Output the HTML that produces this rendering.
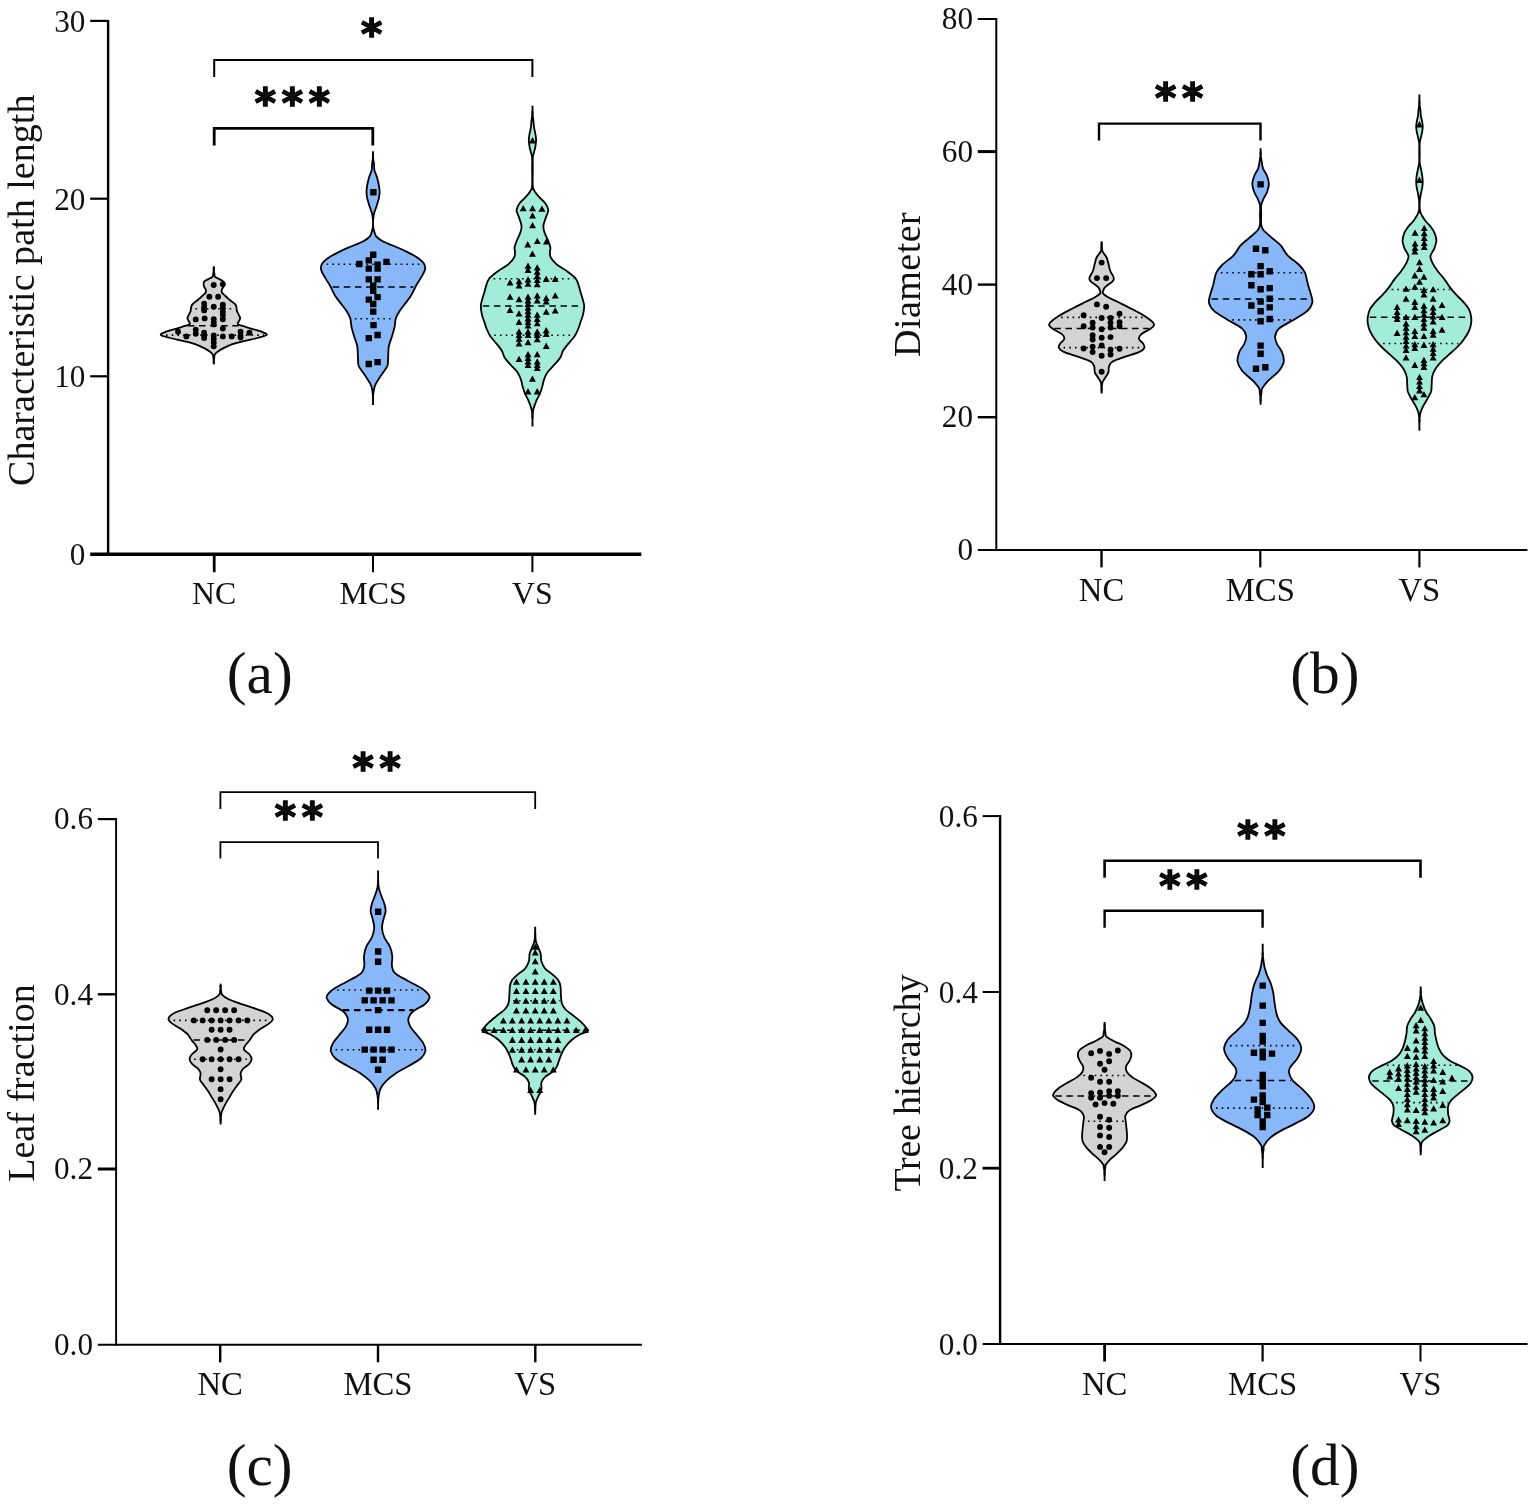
<!DOCTYPE html>
<html lang="en">
<head>
<meta charset="utf-8">
<title>Violin plots</title>
<style>
html,body{margin:0;padding:0;background:#fff;}
body{width:1535px;height:1504px;overflow:hidden;}
svg{display:block;}
text{font-family:"Liberation Serif","DejaVu Serif",serif;fill:#111;}
.tk{font-size:31.2px;}
.xl{font-size:31.8px;}
.yl{font-size:38px;}
.cap{font-size:59.4px;}
.st{font-family:"DejaVu Sans","Liberation Sans",sans-serif;font-weight:bold;font-size:40.5px;stroke:#000;stroke-width:1.5px;stroke-linejoin:miter;}
</style>
</head>
<body>
<svg width="1535" height="1504" viewBox="0 0 1535 1504" role="img" aria-label="Violin plots of network measures for NC, MCS and VS groups">
<rect width="1535" height="1504" fill="#fff"/>
<path d="M108.1 19.9V555.2" stroke="#000" stroke-width="2.4" fill="none"/>
<path d="M90.2 554.2H641.4" stroke="#000" stroke-width="3.4" fill="none"/>
<path d="M90.2 20.9H108.1" stroke="#000" stroke-width="2.2" fill="none"/>
<text x="85.4" y="31.7" text-anchor="end" class="tk">30</text>
<path d="M90.2 198.7H108.1" stroke="#000" stroke-width="2.2" fill="none"/>
<text x="85.4" y="209.5" text-anchor="end" class="tk">20</text>
<path d="M90.2 376.3H108.1" stroke="#000" stroke-width="2.2" fill="none"/>
<text x="85.4" y="387.1" text-anchor="end" class="tk">10</text>
<text x="85.4" y="564.8" text-anchor="end" class="tk">0</text>
<path d="M214.2 554.2V572.2" stroke="#000" stroke-width="2.8" fill="none"/>
<text x="214.2" y="604.2" text-anchor="middle" class="xl" style="font-size:31.8px">NC</text>
<path d="M373 554.2V572.2" stroke="#000" stroke-width="2" fill="none"/>
<text x="373" y="604.2" text-anchor="middle" class="xl" style="font-size:31.8px">MCS</text>
<path d="M532.4 554.2V572.2" stroke="#000" stroke-width="2" fill="none"/>
<text x="532.4" y="604.2" text-anchor="middle" class="xl" style="font-size:31.8px">VS</text>
<text transform="translate(33.6 290.3) rotate(-90)" text-anchor="middle" textLength="391.4" lengthAdjust="spacing" class="yl">Characteristic path length</text>
<text x="259.8" y="693.3" text-anchor="middle" class="cap">(a)</text>
<path d="M996.3 18V550.9" stroke="#000" stroke-width="2" fill="none"/>
<path d="M977.8 549.9H1527.4" stroke="#000" stroke-width="2" fill="none"/>
<path d="M977.8 19H996.3" stroke="#000" stroke-width="2" fill="none"/>
<text x="973" y="28.9" text-anchor="end" class="tk">80</text>
<path d="M977.8 151.6H996.3" stroke="#000" stroke-width="3" fill="none"/>
<text x="973" y="161.5" text-anchor="end" class="tk">60</text>
<path d="M977.8 284.6H996.3" stroke="#000" stroke-width="2.4" fill="none"/>
<text x="973" y="294.5" text-anchor="end" class="tk">40</text>
<path d="M977.8 417.2H996.3" stroke="#000" stroke-width="2.4" fill="none"/>
<text x="973" y="427.1" text-anchor="end" class="tk">20</text>
<text x="973" y="559.8" text-anchor="end" class="tk">0</text>
<path d="M1101.5 549.9V567.4" stroke="#000" stroke-width="2.4" fill="none"/>
<text x="1101.5" y="601.4" text-anchor="middle" class="xl" style="font-size:32.7px">NC</text>
<path d="M1260.3 549.9V567.4" stroke="#000" stroke-width="2.2" fill="none"/>
<text x="1260.3" y="601.4" text-anchor="middle" class="xl" style="font-size:32.7px">MCS</text>
<path d="M1419.4 549.9V567.4" stroke="#000" stroke-width="2.2" fill="none"/>
<text x="1419.4" y="601.4" text-anchor="middle" class="xl" style="font-size:32.7px">VS</text>
<text transform="translate(920 284.6) rotate(-90)" text-anchor="middle" textLength="144.6" lengthAdjust="spacing" class="yl">Diameter</text>
<text x="1324.9" y="692.6" text-anchor="middle" class="cap">(b)</text>
<path d="M116.1 818.1V1345.8" stroke="#000" stroke-width="1.9" fill="none"/>
<path d="M97.8 1344.8H641.9" stroke="#000" stroke-width="2" fill="none"/>
<path d="M97.8 819.1H116.1" stroke="#000" stroke-width="2.2" fill="none"/>
<text x="93" y="829.3" text-anchor="end" class="tk">0.6</text>
<path d="M97.8 994.3H116.1" stroke="#000" stroke-width="2.4" fill="none"/>
<text x="93" y="1004.5" text-anchor="end" class="tk">0.4</text>
<path d="M97.8 1169H116.1" stroke="#000" stroke-width="3" fill="none"/>
<text x="93" y="1179.2" text-anchor="end" class="tk">0.2</text>
<text x="93" y="1355" text-anchor="end" class="tk">0.0</text>
<path d="M220.2 1344.8V1362.3" stroke="#000" stroke-width="2.4" fill="none"/>
<text x="220.2" y="1395" text-anchor="middle" class="xl" style="font-size:32.7px">NC</text>
<path d="M378 1344.8V1362.3" stroke="#000" stroke-width="2.4" fill="none"/>
<text x="378" y="1395" text-anchor="middle" class="xl" style="font-size:32.7px">MCS</text>
<path d="M535.3 1344.8V1362.3" stroke="#000" stroke-width="2.4" fill="none"/>
<text x="535.3" y="1395" text-anchor="middle" class="xl" style="font-size:32.7px">VS</text>
<text transform="translate(33.6 1083) rotate(-90)" text-anchor="middle" textLength="197.6" lengthAdjust="spacing" class="yl">Leaf fraction</text>
<text x="259.7" y="1485" text-anchor="middle" class="cap">(c)</text>
<path d="M1000.1 815.1V1345" stroke="#000" stroke-width="2.4" fill="none"/>
<path d="M982.6 1344H1527.6" stroke="#000" stroke-width="2" fill="none"/>
<path d="M982.6 816.1H1000.1" stroke="#000" stroke-width="2" fill="none"/>
<text x="977.8" y="826.8" text-anchor="end" class="tk">0.6</text>
<path d="M982.6 992H1000.1" stroke="#000" stroke-width="2" fill="none"/>
<text x="977.8" y="1002.7" text-anchor="end" class="tk">0.4</text>
<path d="M982.6 1168.2H1000.1" stroke="#000" stroke-width="2.8" fill="none"/>
<text x="977.8" y="1178.9" text-anchor="end" class="tk">0.2</text>
<text x="977.8" y="1354.7" text-anchor="end" class="tk">0.0</text>
<path d="M1104.6 1344V1361.5" stroke="#000" stroke-width="2.8" fill="none"/>
<text x="1104.6" y="1394.9" text-anchor="middle" class="xl" style="font-size:32.7px">NC</text>
<path d="M1262.6 1344V1361.5" stroke="#000" stroke-width="2.2" fill="none"/>
<text x="1262.6" y="1394.9" text-anchor="middle" class="xl" style="font-size:32.7px">MCS</text>
<path d="M1420.5 1344V1361.5" stroke="#000" stroke-width="2" fill="none"/>
<text x="1420.5" y="1394.9" text-anchor="middle" class="xl" style="font-size:32.7px">VS</text>
<text transform="translate(920.2 1082.7) rotate(-90)" text-anchor="middle" textLength="217.6" lengthAdjust="spacing" class="yl">Tree hierarchy</text>
<text x="1324.9" y="1485.2" text-anchor="middle" class="cap">(d)</text>
<path d="M213.8 267C213.7 267.7 213.7 270 213.5 271.5C213.3 273 213.1 275 212.8 276C212.6 276.9 212.7 276.8 211.9 277.3C211.2 277.8 209.6 278.4 208.3 279.1C207 279.8 204.9 280.6 204.1 281.7C203.4 282.8 203.6 284.6 203.8 285.9C204 287.1 205.1 287.9 205.5 289C205.8 290 206.3 291.1 205.9 292.1C205.5 293.2 204.1 294.2 203.1 295.2C202 296.3 200.8 297.3 199.6 298.4C198.4 299.4 197 300.5 195.8 301.5C194.5 302.5 192.9 303.6 192.1 304.6C191.3 305.7 191.3 306.7 191.1 307.8C190.8 308.8 191 309.8 190.7 310.9C190.3 312 189.5 313.3 189 314.5C188.5 315.7 187.5 317 187.4 318.2C187.4 319.3 188.4 320.3 188.8 321.3C189.2 322.3 190.3 323.2 189.8 323.9C189.3 324.6 188.1 324.9 185.9 325.7C183.6 326.5 179.8 327.6 176.5 328.6C173.2 329.6 168.7 330.7 166.1 331.7C163.5 332.8 160.2 333.8 160.8 334.9C161.5 335.9 166.4 336.9 170.2 338C174 339 179.6 340.1 183.8 341.1C187.9 342.1 191.8 343 195.2 344.2C198.7 345.5 202.1 347.1 204.6 348.4C207.1 349.7 209 351 210.4 352.1C211.7 353.1 212.3 353.5 212.8 354.7C213.4 355.8 213.3 357.7 213.5 359.2C213.7 360.7 213.7 362.9 213.8 363.7L213.8 363.7C213.8 362.9 213.9 360.7 214.1 359.2C214.3 357.7 214.2 355.8 214.7 354.7C215.3 353.5 215.9 353.1 217.2 352.1C218.6 351 220.5 349.7 223 348.4C225.5 347.1 228.9 345.5 232.4 344.2C235.8 343 239.6 342.1 243.8 341.1C248 340.1 253.5 339 257.4 338C261.2 336.9 266.1 335.9 266.7 334.9C267.4 333.8 264.1 332.8 261.5 331.7C258.9 330.7 254.4 329.6 251.1 328.6C247.8 327.6 244 326.5 241.7 325.7C239.5 324.9 238.3 324.6 237.8 323.9C237.3 323.2 238.4 322.3 238.8 321.3C239.2 320.3 240.2 319.3 240.2 318.2C240.1 317 239.1 315.7 238.6 314.5C238.1 313.3 237.3 312 236.9 310.9C236.6 309.8 236.8 308.8 236.5 307.8C236.3 306.7 236.3 305.7 235.5 304.6C234.7 303.6 233.1 302.5 231.8 301.5C230.6 300.5 229.2 299.4 228 298.4C226.8 297.3 225.6 296.3 224.5 295.2C223.5 294.2 222.1 293.2 221.7 292.1C221.3 291.1 221.8 290 222.1 289C222.5 287.9 223.6 287.1 223.8 285.9C224 284.6 224.2 282.8 223.5 281.7C222.7 280.6 220.6 279.8 219.3 279.1C218 278.4 216.4 277.8 215.7 277.3C214.9 276.8 215 276.9 214.7 276C214.5 275 214.3 273 214.1 271.5C213.9 270 213.8 267.7 213.8 267Z" fill="#d3d3d3" stroke="#000" stroke-width="1.8" stroke-linejoin="round"/>
<path d="M213.8 267.3V270M213.8 360.7V364" stroke="#000" stroke-width="1.9" fill="none"/>
<path d="M195.4 308.8H234.7" stroke="#000" stroke-width="1.6" stroke-dasharray="1.6 4.1" fill="none"/>
<path d="M187.9 325.7H239.7" stroke="#000" stroke-width="1.5" stroke-dasharray="6.5 4.6" fill="none"/>
<path d="M166 335.1H264.1" stroke="#000" stroke-width="1.6" stroke-dasharray="1.6 4.1" fill="none"/>
<path d="M210.8 285a2.95 2.95 0 1 0 5.9 0a2.95 2.95 0 1 0 -5.9 0M219.9 284.3a2.95 2.95 0 1 0 5.9 0a2.95 2.95 0 1 0 -5.9 0M206.4 296.8a2.95 2.95 0 1 0 5.9 0a2.95 2.95 0 1 0 -5.9 0M215.2 296.8a2.95 2.95 0 1 0 5.9 0a2.95 2.95 0 1 0 -5.9 0M201.2 303.6a2.95 2.95 0 1 0 5.9 0a2.95 2.95 0 1 0 -5.9 0M201.2 306.7a2.95 2.95 0 1 0 5.9 0a2.95 2.95 0 1 0 -5.9 0M201.2 310.4a2.95 2.95 0 1 0 5.9 0a2.95 2.95 0 1 0 -5.9 0M210.8 306.7a2.95 2.95 0 1 0 5.9 0a2.95 2.95 0 1 0 -5.9 0M219.9 304.6a2.95 2.95 0 1 0 5.9 0a2.95 2.95 0 1 0 -5.9 0M219.9 307.8a2.95 2.95 0 1 0 5.9 0a2.95 2.95 0 1 0 -5.9 0M219.9 311.9a2.95 2.95 0 1 0 5.9 0a2.95 2.95 0 1 0 -5.9 0M219.9 315a2.95 2.95 0 1 0 5.9 0a2.95 2.95 0 1 0 -5.9 0M219.9 319.2a2.95 2.95 0 1 0 5.9 0a2.95 2.95 0 1 0 -5.9 0M192.8 319.4a2.95 2.95 0 1 0 5.9 0a2.95 2.95 0 1 0 -5.9 0M201.7 318.4a2.95 2.95 0 1 0 5.9 0a2.95 2.95 0 1 0 -5.9 0M210.8 319.2a2.95 2.95 0 1 0 5.9 0a2.95 2.95 0 1 0 -5.9 0M210.8 322.3a2.95 2.95 0 1 0 5.9 0a2.95 2.95 0 1 0 -5.9 0M210.8 324.4a2.95 2.95 0 1 0 5.9 0a2.95 2.95 0 1 0 -5.9 0M192.8 329.6a2.95 2.95 0 1 0 5.9 0a2.95 2.95 0 1 0 -5.9 0M192.8 333.8a2.95 2.95 0 1 0 5.9 0a2.95 2.95 0 1 0 -5.9 0M175.1 331.7a2.95 2.95 0 1 0 5.9 0a2.95 2.95 0 1 0 -5.9 0M183.4 336.4a2.95 2.95 0 1 0 5.9 0a2.95 2.95 0 1 0 -5.9 0M201.2 332.8a2.95 2.95 0 1 0 5.9 0a2.95 2.95 0 1 0 -5.9 0M201.2 335.9a2.95 2.95 0 1 0 5.9 0a2.95 2.95 0 1 0 -5.9 0M201.2 338a2.95 2.95 0 1 0 5.9 0a2.95 2.95 0 1 0 -5.9 0M210.8 335.4a2.95 2.95 0 1 0 5.9 0a2.95 2.95 0 1 0 -5.9 0M210.8 339a2.95 2.95 0 1 0 5.9 0a2.95 2.95 0 1 0 -5.9 0M210.8 342.7a2.95 2.95 0 1 0 5.9 0a2.95 2.95 0 1 0 -5.9 0M210.8 346.3a2.95 2.95 0 1 0 5.9 0a2.95 2.95 0 1 0 -5.9 0M219.9 328.6a2.95 2.95 0 1 0 5.9 0a2.95 2.95 0 1 0 -5.9 0M219.9 336.4a2.95 2.95 0 1 0 5.9 0a2.95 2.95 0 1 0 -5.9 0M228.8 336.4a2.95 2.95 0 1 0 5.9 0a2.95 2.95 0 1 0 -5.9 0M237.6 331.7a2.95 2.95 0 1 0 5.9 0a2.95 2.95 0 1 0 -5.9 0M237.6 335.9a2.95 2.95 0 1 0 5.9 0a2.95 2.95 0 1 0 -5.9 0M237.6 337.5a2.95 2.95 0 1 0 5.9 0a2.95 2.95 0 1 0 -5.9 0M246.5 332.8a2.95 2.95 0 1 0 5.9 0a2.95 2.95 0 1 0 -5.9 0" fill="#000"/>
<path d="M373 155C373 155.8 372.9 158 372.7 159.5C372.6 161 372.3 162.2 372.1 164C371.9 165.9 372.1 168.1 371.6 170.4C371 172.7 369.6 175.4 368.9 177.9C368.2 180.4 367.6 183 367.2 185.3C366.8 187.6 366.5 189.6 366.5 191.7C366.5 193.8 366.7 195.8 367.2 198.1C367.7 200.4 368.5 203 369.3 205.5C370.1 208 371.3 210.7 371.9 213C372.5 215.3 372.8 217.1 372.9 219.4C373.1 221.7 373.1 225 372.9 226.8C372.8 228.6 372.7 228.5 372.2 230.1C371.7 231.7 371.4 234.5 369.9 236.4C368.4 238.3 366.1 239.8 362.9 241.5C359.8 243.2 354.8 244.8 350.9 246.5C347 248.2 343.4 249.7 339.6 251.6C335.8 253.5 331 256 328.2 257.9C325.4 259.8 323.7 261.2 322.5 263C321.3 264.7 320.8 266.7 320.9 268.6C321 270.5 322.1 272.3 323.1 274.3C324.2 276.3 325.7 278.5 326.9 280.6C328.2 282.7 329.4 284.4 330.7 287C332.1 289.5 333.5 293.1 335.1 295.8C336.8 298.5 338.9 300.9 340.8 303.4C342.7 305.9 344.9 308.4 346.5 311C348.1 313.5 349.5 315.8 350.3 318.5C351.1 321.3 350.9 324.4 351.6 327.4C352.2 330.3 353.1 333.1 354.1 336.2C355 339.4 356.6 343 357.3 346.3C357.9 349.7 357.7 353.3 357.9 356.4C358.1 359.6 357.8 362.8 358.5 365.3C359.3 367.8 360.9 369.5 362.3 371.6C363.7 373.7 365.4 375.8 366.7 377.9C368.1 380 369.6 382.3 370.5 384.2C371.4 386.1 371.7 387.7 372.1 389.3C372.5 390.9 372.6 392.3 372.7 393.8C372.9 395.3 373 397.5 373 398.3L373 398.3C373.1 397.5 373.2 395.3 373.3 393.8C373.5 392.3 373.6 390.9 374 389.3C374.4 387.7 374.7 386.1 375.6 384.2C376.5 382.3 378 380 379.4 377.9C380.7 375.8 382.4 373.7 383.8 371.6C385.2 369.5 386.8 367.8 387.6 365.3C388.3 362.8 388 359.6 388.2 356.4C388.4 353.3 388.2 349.7 388.8 346.3C389.5 343 391 339.4 392 336.2C392.9 333.1 393.9 330.3 394.5 327.4C395.2 324.4 394.9 321.3 395.8 318.5C396.6 315.8 398 313.5 399.6 311C401.2 308.4 403.4 305.9 405.3 303.4C407.2 300.9 409.3 298.5 410.9 295.8C412.6 293.1 414 289.5 415.4 287C416.7 284.4 417.9 282.7 419.2 280.6C420.4 278.5 421.9 276.3 422.9 274.3C424 272.3 425.1 270.5 425.2 268.6C425.3 266.7 424.8 264.7 423.6 263C422.4 261.2 420.7 259.8 417.9 257.9C415.1 256 410.3 253.5 406.5 251.6C402.7 249.7 399 248.2 395.2 246.5C391.3 244.8 386.3 243.2 383.2 241.5C380 239.8 377.7 238.3 376.2 236.4C374.7 234.5 374.4 231.7 373.9 230.1C373.4 228.5 373.3 228.6 373.2 226.8C373 225 373 221.7 373.2 219.4C373.3 217.1 373.6 215.3 374.2 213C374.8 210.7 376 208 376.8 205.5C377.5 203 378.4 200.4 378.9 198.1C379.4 195.8 379.6 193.8 379.6 191.7C379.6 189.6 379.3 187.6 378.9 185.3C378.5 183 377.9 180.4 377.2 177.9C376.5 175.4 375.1 172.7 374.5 170.4C374 168.1 374.2 165.9 374 164C373.8 162.2 373.5 161 373.3 159.5C373.2 158 373.1 155.8 373 155Z" fill="#88b8fa" stroke="#000" stroke-width="1.8" stroke-linejoin="round"/>
<path d="M373 151.3V158M373 395.3V405.1" stroke="#000" stroke-width="1.9" fill="none"/>
<path d="M326.6 264.2H421.9" stroke="#000" stroke-width="1.6" stroke-dasharray="1.6 4.1" fill="none"/>
<path d="M332.7 287H413.4" stroke="#000" stroke-width="1.5" stroke-dasharray="6.5 4.6" fill="none"/>
<path d="M354.8 318.8H393.7" stroke="#000" stroke-width="1.6" stroke-dasharray="1.6 4.1" fill="none"/>
<path d="M370.2 189h6.4v6.4h-6.4zM370 251.5h6.4v6.4h-6.4zM365.6 257.2h6.4v6.4h-6.4zM356.1 260.8h6.4v6.4h-6.4zM383.3 258.7h6.4v6.4h-6.4zM374.4 261.6h6.4v6.4h-6.4zM374.4 265.4h6.4v6.4h-6.4zM365.6 265.4h6.4v6.4h-6.4zM365.6 276.2h6.4v6.4h-6.4zM374.4 276.2h6.4v6.4h-6.4zM370 282.5h6.4v6.4h-6.4zM370 287.5h6.4v6.4h-6.4zM374.4 293.9h6.4v6.4h-6.4zM365.6 296.4h6.4v6.4h-6.4zM370 300.8h6.4v6.4h-6.4zM370 308.4h6.4v6.4h-6.4zM370.3 321.9h6.4v6.4h-6.4zM374.4 331.8h6.4v6.4h-6.4zM365.6 334.9h6.4v6.4h-6.4zM374.4 358.9h6.4v6.4h-6.4zM365.6 360.8h6.4v6.4h-6.4z" fill="#000"/>
<path d="M532.5 111.5C532.4 112.3 532.3 114.5 532.2 116C532 117.5 531.7 118.6 531.5 120.5C531.3 122.4 531.2 125 530.9 127.3C530.5 129.6 529.9 131.9 529.5 134.1C529.2 136.2 528.8 138.2 528.8 140.3C528.8 142.4 529.2 144.5 529.5 146.5C529.9 148.5 530.4 150.3 530.9 152.2C531.3 154.1 531.9 155 532.1 157.8C532.3 160.6 532.1 164.4 532.1 169.1C532.1 173.8 532.5 182.3 532.1 186.1C531.8 189.8 531.1 189.8 530 191.7C528.9 193.6 527.1 195.5 525.4 197.4C523.7 199.3 521.3 201 519.8 203C518.3 205.1 516.8 207.6 516.6 209.8C516.4 212.1 517.9 214 518.7 216.6C519.5 219.2 521.2 223 521.5 225.6C521.8 228.3 521.2 229.8 520.4 232.4C519.5 235.1 517.4 238.8 516.4 241.5C515.4 244.1 514.6 246.8 514.4 248.2C514.1 249.7 514.9 248.5 514.9 250C514.8 251.5 515.4 254.8 514.3 257.2C513.2 259.6 511.1 262 508.3 264.4C505.5 266.8 500.7 269.1 497.5 271.5C494.3 273.9 491 276.3 489.1 278.7C487.2 281.1 487 283.5 486.1 285.9C485.3 288.3 484.8 290.7 484.1 293.1C483.4 295.5 482.5 298.1 481.9 300.3C481.4 302.5 480.8 303.9 480.8 306.2C480.8 308.6 481.3 312 481.9 314.6C482.5 317.2 483.5 319.4 484.3 321.8C485.1 324.2 485.7 326.6 486.7 329C487.7 331.4 488.7 333.8 490.3 336.2C491.9 338.6 494.4 341 496.3 343.4C498.2 345.7 500.3 348.1 501.7 350.5C503.1 352.9 503.2 355.3 504.7 357.7C506.2 360.1 508.6 362.5 510.7 364.9C512.8 367.3 515.6 369.7 517.3 372.1C518.9 374.5 519.9 376.9 520.8 379.3C521.7 381.6 521.9 384 522.6 386.4C523.3 388.8 524 391.2 525 393.6C526 396 527.5 398.2 528.6 400.8C529.7 403.4 530.9 407 531.5 409.2C532.1 411.3 532 412.2 532.2 413.7C532.3 415.2 532.4 417.4 532.5 418.2L532.5 418.2C532.5 417.4 532.6 415.2 532.8 413.7C532.9 412.2 532.8 411.3 533.4 409.2C534 407 535.2 403.4 536.3 400.8C537.4 398.2 538.9 396 539.9 393.6C540.9 391.2 541.6 388.8 542.3 386.4C543 384 543.2 381.6 544.1 379.3C545 376.9 546 374.5 547.7 372.1C549.3 369.7 552.1 367.3 554.2 364.9C556.3 362.5 558.7 360.1 560.2 357.7C561.7 355.3 561.8 352.9 563.2 350.5C564.6 348.1 566.7 345.7 568.6 343.4C570.5 341 573 338.6 574.6 336.2C576.2 333.8 577.2 331.4 578.2 329C579.2 326.6 579.8 324.2 580.6 321.8C581.4 319.4 582.4 317.2 583 314.6C583.6 312 584.2 308.6 584.2 306.2C584.2 303.9 583.5 302.5 583 300.3C582.4 298.1 581.5 295.5 580.8 293.1C580.1 290.7 579.6 288.3 578.8 285.9C577.9 283.5 577.7 281.1 575.8 278.7C573.9 276.3 570.6 273.9 567.4 271.5C564.2 269.1 559.4 266.8 556.6 264.4C553.8 262 551.7 259.6 550.6 257.2C549.5 254.8 550.1 251.5 550 250C550 248.5 550.8 249.7 550.5 248.2C550.3 246.8 549.5 244.1 548.5 241.5C547.5 238.8 545.4 235.1 544.5 232.4C543.7 229.8 543.1 228.3 543.4 225.6C543.7 223 545.4 219.2 546.2 216.6C547.1 214 548.5 212.1 548.3 209.8C548.1 207.6 546.6 205.1 545.1 203C543.6 201 541.2 199.3 539.5 197.4C537.8 195.5 536.1 193.6 534.9 191.7C533.8 189.8 533.1 189.8 532.8 186.1C532.4 182.3 532.8 173.8 532.8 169.1C532.8 164.4 532.6 160.6 532.8 157.8C533 155 533.6 154.1 534 152.2C534.5 150.3 535.1 148.5 535.4 146.5C535.7 144.5 536.1 142.4 536.1 140.3C536.1 138.2 535.7 136.2 535.4 134.1C535.1 131.9 534.4 129.6 534 127.3C533.7 125 533.6 122.4 533.4 120.5C533.2 118.6 532.9 117.5 532.8 116C532.6 114.5 532.5 112.3 532.5 111.5Z" fill="#a3ecd9" stroke="#000" stroke-width="1.8" stroke-linejoin="round"/>
<path d="M532.5 105.8V114.5M532.5 415.2V426.5" stroke="#000" stroke-width="1.9" fill="none"/>
<path d="M493.6 278.7H573.8" stroke="#000" stroke-width="1.6" stroke-dasharray="1.6 4.1" fill="none"/>
<path d="M482.8 306H582.1" stroke="#000" stroke-width="1.5" stroke-dasharray="6.5 4.6" fill="none"/>
<path d="M494.3 335.2H573.1" stroke="#000" stroke-width="1.6" stroke-dasharray="1.6 4.1" fill="none"/>
<path d="M532.5 137.1l3.5 6.3h-6.9zM523.2 205l3.5 6.3h-6.9zM532.5 205l3.5 6.3h-6.9zM541.9 205.5l3.5 6.3h-6.9zM532.5 212.3l3.5 6.3h-6.9zM532.5 221.9l3.5 6.3h-6.9zM537.3 237.7l3.5 6.3h-6.9zM546.4 238.3l3.5 6.3h-6.9zM527.7 241.1l3.5 6.3h-6.9zM532.4 250.4l3.5 6.3h-6.9zM528 262.4l3.5 6.3h-6.9zM528 266.6l3.5 6.3h-6.9zM537.2 264.2l3.5 6.3h-6.9zM537.2 268.4l3.5 6.3h-6.9zM537.2 272.6l3.5 6.3h-6.9zM510 279.2l3.5 6.3h-6.9zM519 278l3.5 6.3h-6.9zM519 282.2l3.5 6.3h-6.9zM528 276.2l3.5 6.3h-6.9zM528 280.4l3.5 6.3h-6.9zM537.2 276.8l3.5 6.3h-6.9zM537.2 281l3.5 6.3h-6.9zM546.2 275.6l3.5 6.3h-6.9zM555.2 275.6l3.5 6.3h-6.9zM510 293.5l3.5 6.3h-6.9zM519 295.9l3.5 6.3h-6.9zM528 293.5l3.5 6.3h-6.9zM528 297.1l3.5 6.3h-6.9zM528 300.7l3.5 6.3h-6.9zM537.2 292.3l3.5 6.3h-6.9zM537.2 297.1l3.5 6.3h-6.9zM546.2 294.7l3.5 6.3h-6.9zM546.2 298.3l3.5 6.3h-6.9zM555.2 292.3l3.5 6.3h-6.9zM510 306.7l3.5 6.3h-6.9zM519 310.3l3.5 6.3h-6.9zM528 304.3l3.5 6.3h-6.9zM528 307.9l3.5 6.3h-6.9zM528 311.5l3.5 6.3h-6.9zM528 315.1l3.5 6.3h-6.9zM528 318.7l3.5 6.3h-6.9zM528 322.2l3.5 6.3h-6.9zM537.2 311.5l3.5 6.3h-6.9zM537.2 315.7l3.5 6.3h-6.9zM537.2 319.9l3.5 6.3h-6.9zM546.2 308.5l3.5 6.3h-6.9zM555.2 307.3l3.5 6.3h-6.9zM519 318.7l3.5 6.3h-6.9zM519 328.2l3.5 6.3h-6.9zM519 331.8l3.5 6.3h-6.9zM519 335.4l3.5 6.3h-6.9zM519 340.2l3.5 6.3h-6.9zM528 328.2l3.5 6.3h-6.9zM528 331.8l3.5 6.3h-6.9zM528 339l3.5 6.3h-6.9zM537.2 328.2l3.5 6.3h-6.9zM537.2 331.8l3.5 6.3h-6.9zM537.2 336l3.5 6.3h-6.9zM546.2 327l3.5 6.3h-6.9zM546.2 330.6l3.5 6.3h-6.9zM546.2 342.6l3.5 6.3h-6.9zM519 355.8l3.5 6.3h-6.9zM528 351l3.5 6.3h-6.9zM528 354.6l3.5 6.3h-6.9zM528 358.2l3.5 6.3h-6.9zM528 361.7l3.5 6.3h-6.9zM537.2 351l3.5 6.3h-6.9zM537.2 358.2l3.5 6.3h-6.9zM537.2 361.7l3.5 6.3h-6.9zM537.2 364.7l3.5 6.3h-6.9zM532.4 375.5l3.5 6.3h-6.9zM528 388.1l3.5 6.3h-6.9zM537.2 388.1l3.5 6.3h-6.9z" fill="#000"/>
<path d="M1101.6 242.5C1101.6 243.3 1101.5 245.5 1101.3 247C1101.2 248.5 1101.5 249.8 1100.7 251.5C1099.9 253.3 1097.6 255.5 1096.6 257.5C1095.6 259.5 1095.4 261.3 1094.8 263.5C1094.2 265.7 1093.9 268.3 1093 270.7C1092.1 273.1 1089.8 276.1 1089.4 277.9C1089.1 279.7 1090 280.4 1090.9 281.5C1091.7 282.6 1093.5 283.5 1094.8 284.5C1096.1 285.5 1097.5 286.4 1098.4 287.4C1099.2 288.4 1099.6 289.4 1099.9 290.4C1100.2 291.4 1100.9 292.3 1100.2 293.4C1099.4 294.5 1097.8 295.6 1095.4 297C1093 298.4 1089.8 299.8 1085.8 301.8C1081.8 303.8 1076.1 306.6 1071.5 309C1066.9 311.4 1061.8 314 1058.3 316.2C1054.8 318.4 1052 320.6 1050.5 322.2C1049 323.8 1048.8 324.5 1049.3 325.7C1049.8 326.9 1051.4 327.9 1053.5 329.3C1055.6 330.7 1060.1 332.5 1061.9 334.1C1063.7 335.7 1064.6 337.3 1064.3 338.9C1064 340.5 1061 342.2 1060.1 343.7C1059.2 345.2 1058.2 346.5 1058.9 347.9C1059.6 349.3 1061 350.6 1064.3 352.1C1067.6 353.6 1074.3 355.3 1078.6 356.9C1083 358.5 1088 360.1 1090.6 361.6C1093.2 363.2 1093.5 364.6 1094.2 366.4C1094.9 368.2 1094.2 370.6 1094.8 372.4C1095.4 374.2 1096.8 375.6 1097.8 377.2C1098.8 378.8 1100.1 380.4 1100.7 382C1101.3 383.5 1101.2 385 1101.3 386.5C1101.5 388 1101.6 390.2 1101.6 391L1101.6 391C1101.7 390.2 1101.8 388 1101.9 386.5C1102.1 385 1102 383.5 1102.6 382C1103.2 380.4 1104.5 378.8 1105.5 377.2C1106.4 375.6 1107.8 374.2 1108.4 372.4C1109 370.6 1108.3 368.2 1109 366.4C1109.7 364.6 1110 363.2 1112.6 361.6C1115.2 360.1 1120.2 358.5 1124.6 356.9C1129 355.3 1135.7 353.6 1139 352.1C1142.3 350.6 1143.7 349.3 1144.3 347.9C1145 346.5 1144 345.2 1143.2 343.7C1142.3 342.2 1139.3 340.5 1139 338.9C1138.7 337.3 1139.6 335.7 1141.4 334.1C1143.2 332.5 1147.6 330.7 1149.7 329.3C1151.8 327.9 1153.4 326.9 1153.9 325.7C1154.4 324.5 1154.2 323.8 1152.7 322.2C1151.2 320.6 1148.4 318.4 1144.9 316.2C1141.5 314 1136.4 311.4 1131.8 309C1127.2 306.6 1121.4 303.8 1117.4 301.8C1113.4 299.8 1110.2 298.4 1107.8 297C1105.5 295.6 1103.8 294.5 1103.1 293.4C1102.3 292.3 1103 291.4 1103.3 290.4C1103.6 289.4 1104 288.4 1104.9 287.4C1105.7 286.4 1107.2 285.5 1108.4 284.5C1109.7 283.5 1111.5 282.6 1112.4 281.5C1113.3 280.4 1114.2 279.7 1113.8 277.9C1113.5 276.1 1111.1 273.1 1110.2 270.7C1109.3 268.3 1109 265.7 1108.4 263.5C1107.8 261.3 1107.6 259.5 1106.6 257.5C1105.7 255.5 1103.4 253.3 1102.6 251.5C1101.8 249.8 1102.1 248.5 1101.9 247C1101.8 245.5 1101.7 243.3 1101.6 242.5Z" fill="#d3d3d3" stroke="#000" stroke-width="1.8" stroke-linejoin="round"/>
<path d="M1101.6 241.4V245.5M1101.6 388V393.4" stroke="#000" stroke-width="1.9" fill="none"/>
<path d="M1061.2 317.4H1144.5" stroke="#000" stroke-width="1.6" stroke-dasharray="1.6 4.1" fill="none"/>
<path d="M1054.4 328.4H1148.9" stroke="#000" stroke-width="1.5" stroke-dasharray="6.5 4.6" fill="none"/>
<path d="M1063.5 347.6H1142.3" stroke="#000" stroke-width="1.6" stroke-dasharray="1.6 4.1" fill="none"/>
<path d="M1098.7 262.6a2.95 2.95 0 1 0 5.9 0a2.95 2.95 0 1 0 -5.9 0M1094 278.1a2.95 2.95 0 1 0 5.9 0a2.95 2.95 0 1 0 -5.9 0M1103.2 278.1a2.95 2.95 0 1 0 5.9 0a2.95 2.95 0 1 0 -5.9 0M1094 304.4a2.95 2.95 0 1 0 5.9 0a2.95 2.95 0 1 0 -5.9 0M1103.2 306.8a2.95 2.95 0 1 0 5.9 0a2.95 2.95 0 1 0 -5.9 0M1080.7 315.2a2.95 2.95 0 1 0 5.9 0a2.95 2.95 0 1 0 -5.9 0M1116.6 313.8a2.95 2.95 0 1 0 5.9 0a2.95 2.95 0 1 0 -5.9 0M1098.7 318a2.95 2.95 0 1 0 5.9 0a2.95 2.95 0 1 0 -5.9 0M1107.6 318a2.95 2.95 0 1 0 5.9 0a2.95 2.95 0 1 0 -5.9 0M1089.7 322.8a2.95 2.95 0 1 0 5.9 0a2.95 2.95 0 1 0 -5.9 0M1107.6 322.8a2.95 2.95 0 1 0 5.9 0a2.95 2.95 0 1 0 -5.9 0M1116.6 322.2a2.95 2.95 0 1 0 5.9 0a2.95 2.95 0 1 0 -5.9 0M1080.7 326.3a2.95 2.95 0 1 0 5.9 0a2.95 2.95 0 1 0 -5.9 0M1089.7 327.5a2.95 2.95 0 1 0 5.9 0a2.95 2.95 0 1 0 -5.9 0M1098.7 329.3a2.95 2.95 0 1 0 5.9 0a2.95 2.95 0 1 0 -5.9 0M1107.6 327.5a2.95 2.95 0 1 0 5.9 0a2.95 2.95 0 1 0 -5.9 0M1116.6 326.3a2.95 2.95 0 1 0 5.9 0a2.95 2.95 0 1 0 -5.9 0M1089.7 335.3a2.95 2.95 0 1 0 5.9 0a2.95 2.95 0 1 0 -5.9 0M1098.7 337.7a2.95 2.95 0 1 0 5.9 0a2.95 2.95 0 1 0 -5.9 0M1107.6 337.1a2.95 2.95 0 1 0 5.9 0a2.95 2.95 0 1 0 -5.9 0M1089.7 339.5a2.95 2.95 0 1 0 5.9 0a2.95 2.95 0 1 0 -5.9 0M1098.7 345.5a2.95 2.95 0 1 0 5.9 0a2.95 2.95 0 1 0 -5.9 0M1080.7 348.5a2.95 2.95 0 1 0 5.9 0a2.95 2.95 0 1 0 -5.9 0M1089.7 346.7a2.95 2.95 0 1 0 5.9 0a2.95 2.95 0 1 0 -5.9 0M1089.7 352.1a2.95 2.95 0 1 0 5.9 0a2.95 2.95 0 1 0 -5.9 0M1107.6 349.7a2.95 2.95 0 1 0 5.9 0a2.95 2.95 0 1 0 -5.9 0M1116.6 348.8a2.95 2.95 0 1 0 5.9 0a2.95 2.95 0 1 0 -5.9 0M1098.7 355.7a2.95 2.95 0 1 0 5.9 0a2.95 2.95 0 1 0 -5.9 0M1107.6 354.5a2.95 2.95 0 1 0 5.9 0a2.95 2.95 0 1 0 -5.9 0M1098.7 371.8a2.95 2.95 0 1 0 5.9 0a2.95 2.95 0 1 0 -5.9 0" fill="#000"/>
<path d="M1260.6 151.9C1260.6 152.6 1260.5 154.9 1260.3 156.4C1260.2 157.9 1260 158.8 1259.7 160.9C1259.3 162.9 1259.1 166 1258.1 168.6C1257.2 171.1 1255 173.7 1254.1 176.3C1253.1 178.8 1252.3 181.4 1252.3 184C1252.3 186.6 1253.2 189.3 1254.1 191.7C1254.9 194.1 1256.5 196.2 1257.5 198.5C1258.5 200.7 1259.6 202.5 1260 205.2C1260.5 207.9 1260 211.6 1260 214.8C1260 218.1 1260.4 221.9 1260 224.5C1259.7 227.1 1259.6 228 1257.7 230.3C1255.9 232.5 1251.9 235.4 1249.1 238C1246.2 240.5 1242.9 242.8 1240.4 245.7C1237.8 248.6 1236.7 252.1 1233.6 255.3C1230.6 258.5 1225 262.1 1222.1 265C1219.2 267.9 1217.7 269.5 1216.3 272.7C1214.8 275.9 1214.3 280.7 1213.4 284.3C1212.4 287.8 1211.2 290.8 1210.5 293.9C1209.8 296.9 1208.3 299.7 1208.9 302.6C1209.6 305.5 1211.2 308.4 1214.3 311.2C1217.5 314.1 1223.2 317 1227.8 319.9C1232.5 322.8 1239.3 325.9 1242.3 328.6C1245.4 331.3 1245.8 333.7 1246.2 336.3C1246.5 338.9 1245.4 341.5 1244.2 344C1243.1 346.6 1240.5 348.8 1239.4 351.7C1238.3 354.6 1237 358.2 1237.5 361.4C1238 364.6 1239.7 367.8 1242.3 371C1244.9 374.2 1250.1 377.8 1252.9 380.7C1255.7 383.6 1258 386.4 1259.1 388.4C1260.2 390.3 1259.5 390.8 1259.7 392.2C1259.9 393.6 1260.2 395.2 1260.3 396.7C1260.5 398.2 1260.6 400.5 1260.6 401.2L1260.6 401.2C1260.7 400.5 1260.8 398.2 1260.9 396.7C1261.1 395.2 1261.4 393.6 1261.6 392.2C1261.8 390.8 1261 390.3 1262.2 388.4C1263.3 386.4 1265.5 383.6 1268.3 380.7C1271.1 377.8 1276.4 374.2 1278.9 371C1281.5 367.8 1283.3 364.6 1283.8 361.4C1284.2 358.2 1283 354.6 1281.8 351.7C1280.7 348.8 1278.1 346.6 1277 344C1275.9 341.5 1274.8 338.9 1275.1 336.3C1275.4 333.7 1275.9 331.3 1278.9 328.6C1282 325.9 1288.7 322.8 1293.4 319.9C1298.1 317 1303.8 314.1 1306.9 311.2C1310.1 308.4 1311.7 305.5 1312.3 302.6C1312.9 299.7 1311.5 296.9 1310.8 293.9C1310 290.8 1308.8 287.8 1307.9 284.3C1306.9 280.7 1306.4 275.9 1305 272.7C1303.5 269.5 1302.1 267.9 1299.2 265C1296.3 262.1 1290.7 258.5 1287.6 255.3C1284.6 252.1 1283.4 248.6 1280.9 245.7C1278.3 242.8 1275.1 240.5 1272.2 238C1269.3 235.4 1265.3 232.5 1263.5 230.3C1261.7 228 1261.6 227.1 1261.2 224.5C1260.8 221.9 1261.2 218.1 1261.2 214.8C1261.2 211.6 1260.8 207.9 1261.2 205.2C1261.6 202.5 1262.7 200.7 1263.7 198.5C1264.7 196.2 1266.3 194.1 1267.2 191.7C1268 189.3 1268.9 186.6 1268.9 184C1268.9 181.4 1268.1 178.8 1267.2 176.3C1266.2 173.7 1264.1 171.1 1263.1 168.6C1262.2 166 1261.9 162.9 1261.6 160.9C1261.2 158.8 1261.1 157.9 1260.9 156.4C1260.8 154.9 1260.7 152.6 1260.6 151.9Z" fill="#88b8fa" stroke="#000" stroke-width="1.8" stroke-linejoin="round"/>
<path d="M1260.6 148.3V154.9M1260.6 398.2V404.8" stroke="#000" stroke-width="1.9" fill="none"/>
<path d="M1220.8 272.7H1303" stroke="#000" stroke-width="1.6" stroke-dasharray="1.6 4.1" fill="none"/>
<path d="M1211.6 299.1H1309.7" stroke="#000" stroke-width="1.5" stroke-dasharray="6.5 4.6" fill="none"/>
<path d="M1232.3 319.9H1291.4" stroke="#000" stroke-width="1.6" stroke-dasharray="1.6 4.1" fill="none"/>
<path d="M1257.4 181.2h6.4v6.4h-6.4zM1252.8 245.6h6.4v6.4h-6.4zM1262.1 247.1h6.4v6.4h-6.4zM1257.4 262.9h6.4v6.4h-6.4zM1266.5 268.1h6.4v6.4h-6.4zM1248.2 271h6.4v6.4h-6.4zM1257.4 271h6.4v6.4h-6.4zM1248.2 282h6.4v6.4h-6.4zM1257.4 286.1h6.4v6.4h-6.4zM1266.5 284.9h6.4v6.4h-6.4zM1266.5 295.5h6.4v6.4h-6.4zM1257.4 298.4h6.4v6.4h-6.4zM1248.2 302.3h6.4v6.4h-6.4zM1266.5 304.2h6.4v6.4h-6.4zM1257.4 308.1h6.4v6.4h-6.4zM1266.5 315.8h6.4v6.4h-6.4zM1257.4 318.1h6.4v6.4h-6.4zM1257.4 342.4h6.4v6.4h-6.4zM1257.4 350.5h6.4v6.4h-6.4zM1252.8 365.5h6.4v6.4h-6.4zM1262.1 364h6.4v6.4h-6.4z" fill="#000"/>
<path d="M1419.4 100.9C1419.4 101.7 1419.3 103.9 1419.1 105.4C1419 106.9 1418.7 108.2 1418.5 109.9C1418.3 111.7 1418.3 113.9 1418 115.9C1417.7 117.9 1417 120.1 1416.7 121.9C1416.4 123.7 1416.2 125.1 1416.2 126.7C1416.2 128.3 1416.4 129.7 1416.7 131.5C1417 133.3 1417.6 135.5 1418 137.4C1418.4 139.4 1419 140.8 1419.2 143.4C1419.4 146 1419.2 149.8 1419.2 153C1419.2 156.2 1419.4 160 1419.2 162.6C1419 165.2 1418.4 166.4 1418 168.6C1417.6 170.8 1417 173.6 1416.7 175.7C1416.4 177.9 1416.2 179.7 1416.2 181.7C1416.2 183.7 1416.4 185.7 1416.7 187.7C1417 189.7 1417.6 191.5 1418 193.7C1418.4 195.9 1418.9 198.1 1419.1 200.9C1419.2 203.7 1419.3 208.1 1419 210.5C1418.6 212.8 1418 213.4 1417.1 215.2C1416.1 217 1414.8 219.2 1413.2 221.2C1411.7 223.2 1409.3 225.2 1407.8 227.2C1406.3 229.2 1405.1 231 1404.2 233.2C1403.4 235.4 1402.5 238 1402.5 240.4C1402.5 242.8 1403.8 245.9 1404.2 247.6C1404.7 249.2 1404.6 248.5 1405.3 250C1406 251.5 1408.4 254 1408.5 256.3C1408.6 258.6 1407.2 261.4 1405.9 263.9C1404.7 266.4 1402.8 268.9 1400.9 271.5C1399 274 1396.5 276.5 1394.6 279.1C1392.7 281.6 1391.4 284.1 1389.5 286.6C1387.6 289.2 1385.5 291.7 1383.2 294.2C1380.9 296.7 1377.8 299.3 1375.6 301.8C1373.4 304.3 1371.2 306.8 1369.9 309.4C1368.6 311.9 1368.1 314.6 1367.8 317C1367.4 319.3 1367.4 321 1367.8 323.3C1368.1 325.6 1368.8 328.3 1369.9 330.9C1371 333.4 1372.6 335.9 1374.3 338.4C1376.1 341 1378.2 343.5 1380.7 346C1383.1 348.5 1386.1 351.1 1388.9 353.6C1391.6 356.1 1394.7 358.6 1397.1 361.2C1399.5 363.7 1401.8 366.2 1403.4 368.8C1405 371.3 1405.9 373.8 1406.6 376.3C1407.2 378.9 1407 381.4 1407.2 383.9C1407.4 386.4 1407.1 389 1407.8 391.5C1408.6 394 1410.2 396.5 1411.6 399.1C1413 401.6 1414.9 404.3 1416 406.6C1417.2 409 1418 411.2 1418.5 413C1419 414.8 1419 416 1419.1 417.5C1419.3 419 1419.4 421.2 1419.4 422L1419.4 422C1419.5 421.2 1419.6 419 1419.7 417.5C1419.9 416 1419.9 414.8 1420.4 413C1420.9 411.2 1421.7 409 1422.9 406.6C1424 404.3 1425.9 401.6 1427.3 399.1C1428.6 396.5 1430.3 394 1431.1 391.5C1431.8 389 1431.5 386.4 1431.7 383.9C1431.9 381.4 1431.7 378.9 1432.3 376.3C1433 373.8 1433.9 371.3 1435.5 368.8C1437.1 366.2 1439.4 363.7 1441.8 361.2C1444.2 358.6 1447.3 356.1 1450 353.6C1452.8 351.1 1455.8 348.5 1458.2 346C1460.7 343.5 1462.8 341 1464.5 338.4C1466.3 335.9 1467.9 333.4 1469 330.9C1470.1 328.3 1470.8 325.6 1471.1 323.3C1471.5 321 1471.5 319.3 1471.1 317C1470.8 314.6 1470.3 311.9 1469 309.4C1467.7 306.8 1465.5 304.3 1463.3 301.8C1461.1 299.3 1458 296.7 1455.7 294.2C1453.4 291.7 1451.3 289.2 1449.4 286.6C1447.5 284.1 1446.2 281.6 1444.3 279.1C1442.4 276.5 1439.9 274 1438 271.5C1436.1 268.9 1434.2 266.4 1433 263.9C1431.7 261.4 1430.3 258.6 1430.4 256.3C1430.5 254 1432.9 251.5 1433.6 250C1434.3 248.5 1434.2 249.2 1434.6 247.6C1435.1 245.9 1436.4 242.8 1436.4 240.4C1436.4 238 1435.5 235.4 1434.6 233.2C1433.8 231 1432.6 229.2 1431.1 227.2C1429.6 225.2 1427.2 223.2 1425.7 221.2C1424.1 219.2 1422.8 217 1421.8 215.2C1420.9 213.4 1420.3 212.8 1419.9 210.5C1419.6 208.1 1419.6 203.7 1419.8 200.9C1420 198.1 1420.5 195.9 1420.9 193.7C1421.3 191.5 1421.9 189.7 1422.2 187.7C1422.5 185.7 1422.7 183.7 1422.7 181.7C1422.7 179.7 1422.5 177.9 1422.2 175.7C1421.9 173.6 1421.3 170.8 1420.9 168.6C1420.5 166.4 1419.9 165.2 1419.7 162.6C1419.5 160 1419.7 156.2 1419.7 153C1419.7 149.8 1419.5 146 1419.7 143.4C1419.9 140.8 1420.5 139.4 1420.9 137.4C1421.3 135.5 1421.9 133.3 1422.2 131.5C1422.5 129.7 1422.7 128.3 1422.7 126.7C1422.7 125.1 1422.5 123.7 1422.2 121.9C1421.9 120.1 1421.2 117.9 1420.9 115.9C1420.6 113.9 1420.6 111.7 1420.4 109.9C1420.2 108.2 1419.9 106.9 1419.7 105.4C1419.6 103.9 1419.5 101.7 1419.4 100.9Z" fill="#a3ecd9" stroke="#000" stroke-width="1.8" stroke-linejoin="round"/>
<path d="M1419.4 94.4V103.9M1419.4 419V430.7" stroke="#000" stroke-width="1.9" fill="none"/>
<path d="M1391.6 289.5H1449.8" stroke="#000" stroke-width="1.6" stroke-dasharray="1.6 4.1" fill="none"/>
<path d="M1369.8 317.3H1469.1" stroke="#000" stroke-width="1.5" stroke-dasharray="6.5 4.6" fill="none"/>
<path d="M1383.1 343.5H1458.3" stroke="#000" stroke-width="1.6" stroke-dasharray="1.6 4.1" fill="none"/>
<path d="M1419.4 121.1l3.5 6.3h-6.9zM1419.4 176.8l3.5 6.3h-6.9zM1415 229.4l3.5 6.3h-6.9zM1424.2 224.7l3.5 6.3h-6.9zM1424.2 230l3.5 6.3h-6.9zM1424.2 234.8l3.5 6.3h-6.9zM1424.2 239.6l3.5 6.3h-6.9zM1424.2 243.8l3.5 6.3h-6.9zM1415 240.2l3.5 6.3h-6.9zM1415 244.4l3.5 6.3h-6.9zM1414.8 248.1l3.5 6.3h-6.9zM1419.5 258.9l3.5 6.3h-6.9zM1419.5 265.8l3.5 6.3h-6.9zM1414.8 272.1l3.5 6.3h-6.9zM1423.9 273.4l3.5 6.3h-6.9zM1419.5 278.4l3.5 6.3h-6.9zM1414.8 283.5l3.5 6.3h-6.9zM1406 285.4l3.5 6.3h-6.9zM1423.9 286.6l3.5 6.3h-6.9zM1423.9 291.1l3.5 6.3h-6.9zM1433.1 286l3.5 6.3h-6.9zM1406 295.5l3.5 6.3h-6.9zM1433.1 295.5l3.5 6.3h-6.9zM1414.8 298.6l3.5 6.3h-6.9zM1414.8 303.7l3.5 6.3h-6.9zM1397.1 303.7l3.5 6.3h-6.9zM1397.1 308.8l3.5 6.3h-6.9zM1397.1 312.5l3.5 6.3h-6.9zM1397.1 315.7l3.5 6.3h-6.9zM1423.9 302.4l3.5 6.3h-6.9zM1423.9 306.9l3.5 6.3h-6.9zM1423.9 311.3l3.5 6.3h-6.9zM1423.9 315.7l3.5 6.3h-6.9zM1423.9 320.1l3.5 6.3h-6.9zM1423.9 324.5l3.5 6.3h-6.9zM1433.1 304.3l3.5 6.3h-6.9zM1433.1 308.8l3.5 6.3h-6.9zM1433.1 313.2l3.5 6.3h-6.9zM1433.1 318.2l3.5 6.3h-6.9zM1442 301.8l3.5 6.3h-6.9zM1406 313.8l3.5 6.3h-6.9zM1406 320.1l3.5 6.3h-6.9zM1406 324.5l3.5 6.3h-6.9zM1406 329l3.5 6.3h-6.9zM1406 333.4l3.5 6.3h-6.9zM1406 337.8l3.5 6.3h-6.9zM1406 342.2l3.5 6.3h-6.9zM1406 346.7l3.5 6.3h-6.9zM1414.8 313.8l3.5 6.3h-6.9zM1442 313.8l3.5 6.3h-6.9zM1397.1 329.6l3.5 6.3h-6.9zM1414.8 327.7l3.5 6.3h-6.9zM1414.8 332.8l3.5 6.3h-6.9zM1414.8 341l3.5 6.3h-6.9zM1414.8 344.8l3.5 6.3h-6.9zM1423.9 332.8l3.5 6.3h-6.9zM1423.9 341.6l3.5 6.3h-6.9zM1433.1 327.7l3.5 6.3h-6.9zM1433.1 331.5l3.5 6.3h-6.9zM1433.1 341l3.5 6.3h-6.9zM1433.1 345.4l3.5 6.3h-6.9zM1433.1 349.8l3.5 6.3h-6.9zM1433.1 354.2l3.5 6.3h-6.9zM1442 326.4l3.5 6.3h-6.9zM1406 354.2l3.5 6.3h-6.9zM1414.8 361.6l3.5 6.3h-6.9zM1423.9 356.8l3.5 6.3h-6.9zM1423.9 359.9l3.5 6.3h-6.9zM1423.9 363.7l3.5 6.3h-6.9zM1419.5 373.8l3.5 6.3h-6.9zM1419.5 378.2l3.5 6.3h-6.9zM1419.5 382.7l3.5 6.3h-6.9zM1419.5 387.1l3.5 6.3h-6.9zM1423.9 390.9l3.5 6.3h-6.9zM1414.8 394l3.5 6.3h-6.9z" fill="#000"/>
<path d="M220.6 984.5C220.6 985.3 220.5 987.5 220.3 989C220.2 990.5 220.1 992.4 219.7 993.5C219.3 994.7 219.3 994.9 218 995.9C216.7 996.9 214.6 998.3 212 999.5C209.4 1000.7 206.4 1001.7 202.4 1003.1C198.4 1004.5 192.7 1006.3 188.1 1007.9C183.5 1009.5 177.9 1011.3 174.9 1012.7C171.9 1014.1 170.9 1015.1 169.9 1016.2C168.8 1017.4 168.2 1018.6 168.6 1019.8C168.9 1021 170.1 1022 171.9 1023.4C173.8 1024.8 177.1 1026.4 179.7 1028.2C182.3 1030 185.5 1032.2 187.5 1034.2C189.5 1036.2 190.2 1038.2 191.7 1040.2C193.2 1042.2 195.5 1044.6 196.4 1046.2C197.3 1047.8 197.8 1048.4 197 1049.8C196.2 1051.2 192.9 1053 191.7 1054.5C190.4 1056.1 189.5 1057.7 189.6 1059.3C189.7 1060.9 190.8 1062.5 192.3 1064.1C193.7 1065.7 196.8 1067.3 198.2 1068.9C199.6 1070.5 200.3 1071.9 200.6 1073.7C200.9 1075.5 199.4 1077.7 200 1079.7C200.6 1081.7 202.8 1083.7 204.2 1085.7C205.6 1087.7 207.1 1089.7 208.4 1091.6C209.7 1093.6 210.8 1095.6 212 1097.6C213.2 1099.6 214.5 1101.6 215.6 1103.6C216.7 1105.6 217.9 1108.1 218.6 1109.6C219.3 1111.1 219.4 1111.3 219.7 1112.6C220 1113.8 220.2 1115.6 220.3 1117.1C220.5 1118.6 220.6 1120.8 220.6 1121.6L220.6 1121.6C220.7 1120.8 220.8 1118.6 220.9 1117.1C221.1 1115.6 221.3 1113.8 221.6 1112.6C221.9 1111.3 222 1111.1 222.7 1109.6C223.3 1108.1 224.6 1105.6 225.6 1103.6C226.7 1101.6 228 1099.6 229.2 1097.6C230.4 1095.6 231.5 1093.6 232.8 1091.6C234.1 1089.7 235.6 1087.7 237 1085.7C238.4 1083.7 240.6 1081.7 241.2 1079.7C241.8 1077.7 240.3 1075.5 240.6 1073.7C240.9 1071.9 241.6 1070.5 243 1068.9C244.4 1067.3 247.6 1065.7 249 1064.1C250.4 1062.5 251.5 1060.9 251.6 1059.3C251.7 1057.7 250.8 1056.1 249.6 1054.5C248.3 1053 245 1051.2 244.2 1049.8C243.4 1048.4 243.9 1047.8 244.8 1046.2C245.7 1044.6 248.1 1042.2 249.6 1040.2C251.1 1038.2 251.8 1036.2 253.8 1034.2C255.8 1032.2 259 1030 261.6 1028.2C264.1 1026.4 267.5 1024.8 269.3 1023.4C271.2 1022 272.3 1021 272.7 1019.8C273 1018.6 272.4 1017.4 271.4 1016.2C270.3 1015.1 269.4 1014.1 266.3 1012.7C263.3 1011.3 257.8 1009.5 253.2 1007.9C248.6 1006.3 242.8 1004.5 238.8 1003.1C234.8 1001.7 231.8 1000.7 229.2 999.5C226.6 998.3 224.5 996.9 223.3 995.9C222 994.9 222 994.7 221.6 993.5C221.2 992.4 221.1 990.5 220.9 989C220.8 987.5 220.7 985.3 220.6 984.5Z" fill="#d3d3d3" stroke="#000" stroke-width="1.8" stroke-linejoin="round"/>
<path d="M220.6 984.9V987.5M220.6 1118.6V1124.6" stroke="#000" stroke-width="1.9" fill="none"/>
<path d="M173.6 1020.4H270.1" stroke="#000" stroke-width="1.6" stroke-dasharray="1.6 4.1" fill="none"/>
<path d="M193.5 1039.9H247.8" stroke="#000" stroke-width="1.5" stroke-dasharray="6.5 4.6" fill="none"/>
<path d="M194.1 1059.3H249.6" stroke="#000" stroke-width="1.6" stroke-dasharray="1.6 4.1" fill="none"/>
<path d="M204.3 1010.3a2.95 2.95 0 1 0 5.9 0a2.95 2.95 0 1 0 -5.9 0M213.2 1010.3a2.95 2.95 0 1 0 5.9 0a2.95 2.95 0 1 0 -5.9 0M222.2 1010.3a2.95 2.95 0 1 0 5.9 0a2.95 2.95 0 1 0 -5.9 0M231.2 1010.3a2.95 2.95 0 1 0 5.9 0a2.95 2.95 0 1 0 -5.9 0M190.9 1020.4a2.95 2.95 0 1 0 5.9 0a2.95 2.95 0 1 0 -5.9 0M199.7 1020.4a2.95 2.95 0 1 0 5.9 0a2.95 2.95 0 1 0 -5.9 0M208.7 1020.4a2.95 2.95 0 1 0 5.9 0a2.95 2.95 0 1 0 -5.9 0M217.7 1020.4a2.95 2.95 0 1 0 5.9 0a2.95 2.95 0 1 0 -5.9 0M226.6 1020.4a2.95 2.95 0 1 0 5.9 0a2.95 2.95 0 1 0 -5.9 0M235.6 1020.4a2.95 2.95 0 1 0 5.9 0a2.95 2.95 0 1 0 -5.9 0M244.4 1020.4a2.95 2.95 0 1 0 5.9 0a2.95 2.95 0 1 0 -5.9 0M208.7 1029.8a2.95 2.95 0 1 0 5.9 0a2.95 2.95 0 1 0 -5.9 0M217.7 1029.8a2.95 2.95 0 1 0 5.9 0a2.95 2.95 0 1 0 -5.9 0M226.6 1029.8a2.95 2.95 0 1 0 5.9 0a2.95 2.95 0 1 0 -5.9 0M204.3 1039.9a2.95 2.95 0 1 0 5.9 0a2.95 2.95 0 1 0 -5.9 0M213.2 1039.9a2.95 2.95 0 1 0 5.9 0a2.95 2.95 0 1 0 -5.9 0M222.2 1039.9a2.95 2.95 0 1 0 5.9 0a2.95 2.95 0 1 0 -5.9 0M231.2 1039.9a2.95 2.95 0 1 0 5.9 0a2.95 2.95 0 1 0 -5.9 0M217.7 1049.5a2.95 2.95 0 1 0 5.9 0a2.95 2.95 0 1 0 -5.9 0M199.7 1059.3a2.95 2.95 0 1 0 5.9 0a2.95 2.95 0 1 0 -5.9 0M208.7 1059.3a2.95 2.95 0 1 0 5.9 0a2.95 2.95 0 1 0 -5.9 0M217.7 1059.3a2.95 2.95 0 1 0 5.9 0a2.95 2.95 0 1 0 -5.9 0M226.6 1059.3a2.95 2.95 0 1 0 5.9 0a2.95 2.95 0 1 0 -5.9 0M235.6 1059.3a2.95 2.95 0 1 0 5.9 0a2.95 2.95 0 1 0 -5.9 0M217.7 1069.3a2.95 2.95 0 1 0 5.9 0a2.95 2.95 0 1 0 -5.9 0M208.7 1079.3a2.95 2.95 0 1 0 5.9 0a2.95 2.95 0 1 0 -5.9 0M217.7 1079.3a2.95 2.95 0 1 0 5.9 0a2.95 2.95 0 1 0 -5.9 0M226.6 1079.3a2.95 2.95 0 1 0 5.9 0a2.95 2.95 0 1 0 -5.9 0M217.7 1089.3a2.95 2.95 0 1 0 5.9 0a2.95 2.95 0 1 0 -5.9 0M217.7 1099.2a2.95 2.95 0 1 0 5.9 0a2.95 2.95 0 1 0 -5.9 0" fill="#000"/>
<path d="M378.1 880.1C378.1 880.8 378 883.1 377.8 884.6C377.6 886.1 377.7 887.1 377.2 889.1C376.6 891.1 375.5 894.1 374.6 896.5C373.7 899 372.4 901.5 371.8 904C371.1 906.5 370.4 908.6 370.7 911.4C370.9 914.2 372.5 918 373.1 920.7C373.7 923.5 374.4 925.4 374.2 928.2C374 931 373.1 934.4 371.8 937.5C370.4 940.6 367.5 943.7 366.2 946.8C364.9 949.9 364.3 953 364 956.1C363.6 959.2 364.7 962.6 364.3 965.4C363.9 968.2 364 970.4 361.5 972.9C359.1 975.4 353.8 977.8 349.4 980.3C345.1 982.8 338.9 985.6 335.5 987.8C332 989.9 330 991.6 328.6 993.4C327.1 995.1 326.2 996.1 326.7 998C327.3 999.9 328.9 1002.2 331.8 1004.5C334.6 1006.8 341.2 1009.5 343.9 1012C346.6 1014.5 347.6 1016.9 347.9 1019.4C348.3 1021.9 347.3 1024.1 345.7 1026.9C344.1 1029.7 340.4 1033.4 338.3 1036.2C336.1 1039 333.9 1041.1 332.7 1043.6C331.4 1046.1 330.4 1048.6 330.8 1051.1C331.3 1053.5 332.7 1056 335.5 1058.5C338.3 1061 343.4 1063.5 347.6 1066C351.8 1068.4 356.9 1070.9 360.6 1073.4C364.3 1075.9 367.4 1078.4 369.9 1080.9C372.4 1083.3 374.3 1086.1 375.5 1088.3C376.7 1090.5 376.8 1092.2 377.2 1093.9C377.5 1095.6 377.6 1096.9 377.8 1098.4C378 1099.9 378.1 1102.1 378.1 1102.9L378.1 1102.9C378.2 1102.1 378.2 1099.9 378.4 1098.4C378.6 1096.9 378.7 1095.6 379.1 1093.9C379.4 1092.2 379.5 1090.5 380.7 1088.3C381.9 1086.1 383.8 1083.3 386.3 1080.9C388.8 1078.4 391.9 1075.9 395.6 1073.4C399.3 1070.9 404.4 1068.4 408.6 1066C412.8 1063.5 417.9 1061 420.7 1058.5C423.5 1056 424.9 1053.5 425.4 1051.1C425.9 1048.6 424.8 1046.1 423.5 1043.6C422.3 1041.1 420.1 1039 417.9 1036.2C415.8 1033.4 412.1 1029.7 410.5 1026.9C408.9 1024.1 408 1021.9 408.3 1019.4C408.6 1016.9 409.7 1014.5 412.4 1012C415.1 1009.5 421.6 1006.8 424.5 1004.5C427.3 1002.2 429 999.9 429.5 998C430 996.1 429.1 995.1 427.6 993.4C426.2 991.6 424.2 989.9 420.7 987.8C417.3 985.6 411.1 982.8 406.8 980.3C402.4 977.8 397.2 975.4 394.7 972.9C392.2 970.4 392.3 968.2 391.9 965.4C391.5 962.6 392.6 959.2 392.3 956.1C391.9 953 391.3 949.9 390 946.8C388.7 943.7 385.8 940.6 384.4 937.5C383.1 934.4 382.2 931 382 928.2C381.8 925.4 382.5 923.5 383.1 920.7C383.7 918 385.3 914.2 385.6 911.4C385.8 908.6 385.1 906.5 384.4 904C383.8 901.5 382.5 899 381.6 896.5C380.7 894.1 379.6 891.1 379.1 889.1C378.5 887.1 378.6 886.1 378.4 884.6C378.2 883.1 378.2 880.8 378.1 880.1Z" fill="#88b8fa" stroke="#000" stroke-width="1.8" stroke-linejoin="round"/>
<path d="M378.1 870.5V883.1M378.1 1099.9V1109.7" stroke="#000" stroke-width="1.9" fill="none"/>
<path d="M337.2 990H421.5" stroke="#000" stroke-width="1.6" stroke-dasharray="1.6 4.1" fill="none"/>
<path d="M342.8 1010.1H413.4" stroke="#000" stroke-width="2.3" stroke-dasharray="6.5 4.6" fill="none"/>
<path d="M335.6 1049.8H423.1" stroke="#000" stroke-width="1.6" stroke-dasharray="1.6 4.1" fill="none"/>
<path d="M374.9 908.6h6.4v6.4h-6.4zM374.9 948.3h6.4v6.4h-6.4zM374.9 958.5h6.4v6.4h-6.4zM366 987.4h6.4v6.4h-6.4zM374.9 987.4h6.4v6.4h-6.4zM383.8 987.4h6.4v6.4h-6.4zM361.5 997.2h6.4v6.4h-6.4zM370.4 997.2h6.4v6.4h-6.4zM379.4 997.2h6.4v6.4h-6.4zM388.3 997.2h6.4v6.4h-6.4zM374.9 1006.9h6.4v6.4h-6.4zM366 1026.6h6.4v6.4h-6.4zM374.9 1026.6h6.4v6.4h-6.4zM383.8 1026.6h6.4v6.4h-6.4zM361.5 1046.4h6.4v6.4h-6.4zM370.4 1046.4h6.4v6.4h-6.4zM379.4 1046.4h6.4v6.4h-6.4zM388.3 1046.4h6.4v6.4h-6.4zM370.4 1056.6h6.4v6.4h-6.4zM379.4 1056.6h6.4v6.4h-6.4zM374.9 1066.5h6.4v6.4h-6.4z" fill="#000"/>
<path d="M535.2 933.2C535.1 933.9 535 936.2 534.9 937.7C534.7 939.2 534.7 940.5 534.2 942.2C533.7 943.9 532.6 946.1 531.8 948C531 950 530.1 951.7 529.6 953.9C529.1 956.1 529.6 958.8 528.9 961.2C528.1 963.6 527 966.3 525.2 968.5C523.4 970.7 520.1 972.4 517.9 974.4C515.7 976.3 513.4 978.3 512 980.2C510.7 982.2 510.3 983.6 509.9 986.1C509.4 988.5 509.7 991.9 509.4 994.8C509.2 997.8 509.2 1001.2 508.4 1003.6C507.6 1006.1 506.6 1007.5 504.7 1009.5C502.9 1011.4 500.1 1013.1 497.4 1015.3C494.7 1017.5 491 1020.4 488.6 1022.6C486.3 1024.8 484.5 1027.1 483.5 1028.5C482.5 1029.9 481.4 1030.1 482.5 1031.1C483.6 1032.1 487.4 1032.8 490.1 1034.3C492.8 1035.8 496.3 1038 498.9 1040.2C501.4 1042.4 503.6 1044.8 505.5 1047.5C507.3 1050.2 508.6 1053.4 509.9 1056.3C511.1 1059.2 511.7 1062.6 512.8 1065.1C513.9 1067.5 514.4 1069 516.4 1070.9C518.5 1072.9 523.1 1074.8 525.2 1076.8C527.3 1078.7 528.3 1080.4 528.9 1082.6C529.5 1084.8 528.4 1087.7 528.9 1089.9C529.4 1092.1 530.9 1093.8 531.8 1095.8C532.7 1097.7 533.7 1099.9 534.2 1101.6C534.7 1103.3 534.7 1104.6 534.9 1106.1C535 1107.6 535.1 1109.9 535.2 1110.6L535.2 1110.6C535.2 1109.9 535.3 1107.6 535.5 1106.1C535.6 1104.6 535.6 1103.3 536.1 1101.6C536.6 1099.9 537.6 1097.7 538.5 1095.8C539.4 1093.8 541 1092.1 541.4 1089.9C541.9 1087.7 540.8 1084.8 541.4 1082.6C542.1 1080.4 543 1078.7 545.1 1076.8C547.2 1074.8 551.8 1072.9 553.9 1070.9C556 1069 556.4 1067.5 557.5 1065.1C558.6 1062.6 559.2 1059.2 560.5 1056.3C561.7 1053.4 563 1050.2 564.9 1047.5C566.7 1044.8 568.9 1042.4 571.4 1040.2C574 1038 577.5 1035.8 580.2 1034.3C582.9 1032.8 586.7 1032.1 587.8 1031.1C588.9 1030.1 587.8 1029.9 586.8 1028.5C585.8 1027.1 584 1024.8 581.7 1022.6C579.4 1020.4 575.6 1017.5 572.9 1015.3C570.2 1013.1 567.4 1011.4 565.6 1009.5C563.8 1007.5 562.7 1006.1 561.9 1003.6C561.1 1001.2 561.1 997.8 560.9 994.8C560.7 991.9 560.9 988.5 560.5 986.1C560 983.6 559.6 982.2 558.3 980.2C556.9 978.3 554.6 976.3 552.4 974.4C550.2 972.4 546.9 970.7 545.1 968.5C543.3 966.3 542.2 963.6 541.4 961.2C540.7 958.8 541.2 956.1 540.7 953.9C540.2 951.7 539.3 950 538.5 948C537.8 946.1 536.6 943.9 536.1 942.2C535.6 940.5 535.6 939.2 535.5 937.7C535.3 936.2 535.2 933.9 535.2 933.2Z" fill="#a3ecd9" stroke="#000" stroke-width="1.8" stroke-linejoin="round"/>
<path d="M535.2 926.8V936.2M535.2 1107.6V1114.8" stroke="#000" stroke-width="1.9" fill="none"/>
<path d="M513.2 1000.7H559.6" stroke="#000" stroke-width="1.6" stroke-dasharray="1.6 4.1" fill="none"/>
<path d="M484.8 1030.2H585.5" stroke="#000" stroke-width="1.5" stroke-dasharray="6.5 4.6" fill="none"/>
<path d="M511.1 1049.7H561.8" stroke="#000" stroke-width="1.6" stroke-dasharray="1.6 4.1" fill="none"/>
<path d="M535.2 943.4l3.5 6.3h-6.9zM535.2 949.3l3.5 6.3h-6.9zM535.2 958l3.5 6.3h-6.9zM535.2 968.3l3.5 6.3h-6.9zM516.4 978.5l3.5 6.3h-6.9zM525.9 978.5l3.5 6.3h-6.9zM535.2 978.5l3.5 6.3h-6.9zM544.2 978.5l3.5 6.3h-6.9zM553.3 978.5l3.5 6.3h-6.9zM516.4 987.7l3.5 6.3h-6.9zM525.9 987.7l3.5 6.3h-6.9zM535.2 987.7l3.5 6.3h-6.9zM544.2 987.7l3.5 6.3h-6.9zM553.3 987.7l3.5 6.3h-6.9zM516.4 997.5l3.5 6.3h-6.9zM525.9 997.5l3.5 6.3h-6.9zM535.2 997.5l3.5 6.3h-6.9zM544.2 997.5l3.5 6.3h-6.9zM553.3 997.5l3.5 6.3h-6.9zM516.4 1007.3l3.5 6.3h-6.9zM525.9 1007.3l3.5 6.3h-6.9zM535.2 1007.3l3.5 6.3h-6.9zM544.2 1007.3l3.5 6.3h-6.9zM553.3 1007.3l3.5 6.3h-6.9zM503.3 1017.3l3.5 6.3h-6.9zM512.3 1017.3l3.5 6.3h-6.9zM521.6 1017.3l3.5 6.3h-6.9zM530.6 1017.3l3.5 6.3h-6.9zM539.7 1017.3l3.5 6.3h-6.9zM548.8 1017.3l3.5 6.3h-6.9zM557.8 1017.3l3.5 6.3h-6.9zM566.9 1017.3l3.5 6.3h-6.9zM485 1026.8l3.5 6.3h-6.9zM494.1 1026.8l3.5 6.3h-6.9zM503.3 1026.8l3.5 6.3h-6.9zM512.3 1026.8l3.5 6.3h-6.9zM521.6 1026.8l3.5 6.3h-6.9zM530.6 1026.8l3.5 6.3h-6.9zM539.7 1026.8l3.5 6.3h-6.9zM548.8 1026.8l3.5 6.3h-6.9zM557.8 1026.8l3.5 6.3h-6.9zM566.9 1026.8l3.5 6.3h-6.9zM576.1 1026.8l3.5 6.3h-6.9zM585.2 1026.8l3.5 6.3h-6.9zM512.3 1036.6l3.5 6.3h-6.9zM521.6 1036.6l3.5 6.3h-6.9zM530.6 1036.6l3.5 6.3h-6.9zM539.7 1036.6l3.5 6.3h-6.9zM548.8 1036.6l3.5 6.3h-6.9zM557.8 1036.6l3.5 6.3h-6.9zM512.3 1046.5l3.5 6.3h-6.9zM521.6 1046.5l3.5 6.3h-6.9zM530.6 1046.5l3.5 6.3h-6.9zM539.7 1046.5l3.5 6.3h-6.9zM548.8 1046.5l3.5 6.3h-6.9zM557.8 1046.5l3.5 6.3h-6.9zM521.6 1056.1l3.5 6.3h-6.9zM530.6 1056.1l3.5 6.3h-6.9zM539.7 1056.1l3.5 6.3h-6.9zM548.8 1056.1l3.5 6.3h-6.9zM516.4 1066.3l3.5 6.3h-6.9zM525.9 1066.3l3.5 6.3h-6.9zM535.2 1066.3l3.5 6.3h-6.9zM544.2 1066.3l3.5 6.3h-6.9zM553.3 1066.3l3.5 6.3h-6.9zM530.6 1086.8l3.5 6.3h-6.9zM539.7 1086.8l3.5 6.3h-6.9z" fill="#000"/>
<path d="M1104.6 1024.2C1104.5 1025 1104.4 1027.2 1104.3 1028.7C1104.1 1030.2 1103.9 1031.9 1103.6 1033.2C1103.4 1034.5 1104.1 1035.2 1102.7 1036.6C1101.3 1037.9 1097.8 1039.8 1095.1 1041.2C1092.4 1042.7 1089.2 1043.7 1086.5 1045.2C1083.8 1046.8 1080.6 1048.8 1079.2 1050.5C1077.7 1052.3 1077.7 1054.1 1077.9 1055.9C1078 1057.6 1079 1059.4 1079.9 1061.2C1080.7 1062.9 1082.7 1064.7 1083.2 1066.5C1083.6 1068.3 1083.5 1070 1082.5 1071.8C1081.5 1073.6 1079.6 1075.4 1077.2 1077.1C1074.8 1078.9 1070.9 1080.7 1067.9 1082.4C1064.9 1084.2 1061.6 1086 1059.2 1087.8C1056.9 1089.5 1054.9 1091.7 1053.9 1093.1C1052.9 1094.5 1052.7 1094.9 1053.3 1096C1053.8 1097.1 1054.8 1098.2 1057.2 1099.7C1059.7 1101.2 1064.1 1103.3 1067.9 1105.1C1071.7 1106.8 1077.2 1108.6 1079.9 1110.4C1082.5 1112.1 1083.3 1113.5 1083.8 1115.7C1084.4 1117.9 1083.4 1120.8 1083.2 1123.7C1082.9 1126.6 1082.4 1130.1 1082.2 1133C1082.1 1135.9 1081.8 1138.5 1082.5 1141C1083.2 1143.4 1084.7 1145.4 1086.5 1147.6C1088.3 1149.8 1091 1152.3 1093.1 1154.3C1095.3 1156.2 1097.4 1157.8 1099.1 1159.6C1100.9 1161.3 1102.8 1163.8 1103.5 1164.9C1104.3 1166 1103.5 1165.3 1103.6 1166.2C1103.8 1167.2 1104.1 1169.2 1104.3 1170.7C1104.4 1172.2 1104.5 1174.5 1104.6 1175.2L1104.6 1175.2C1104.6 1174.5 1104.7 1172.2 1104.9 1170.7C1105 1169.2 1105.4 1167.2 1105.5 1166.2C1105.7 1165.3 1104.9 1166 1105.6 1164.9C1106.4 1163.8 1108.3 1161.3 1110 1159.6C1111.8 1157.8 1113.9 1156.2 1116 1154.3C1118.1 1152.3 1120.9 1149.8 1122.7 1147.6C1124.4 1145.4 1126 1143.4 1126.7 1141C1127.4 1138.5 1127 1135.9 1126.9 1133C1126.8 1130.1 1126.3 1126.6 1126 1123.7C1125.7 1120.8 1124.8 1117.9 1125.3 1115.7C1125.9 1113.5 1126.7 1112.1 1129.3 1110.4C1132 1108.6 1137.5 1106.8 1141.3 1105.1C1145.1 1103.3 1149.5 1101.2 1151.9 1099.7C1154.4 1098.2 1155.4 1097.1 1155.9 1096C1156.5 1094.9 1156.2 1094.5 1155.2 1093.1C1154.3 1091.7 1152.3 1089.5 1149.9 1087.8C1147.6 1086 1144.3 1084.2 1141.3 1082.4C1138.3 1080.7 1134.4 1078.9 1132 1077.1C1129.5 1075.4 1127.7 1073.6 1126.7 1071.8C1125.7 1070 1125.6 1068.3 1126 1066.5C1126.4 1064.7 1128.4 1062.9 1129.3 1061.2C1130.2 1059.4 1131.2 1057.6 1131.3 1055.9C1131.4 1054.1 1131.4 1052.3 1130 1050.5C1128.5 1048.8 1125.3 1046.8 1122.7 1045.2C1120 1043.7 1116.7 1042.7 1114 1041.2C1111.3 1039.8 1107.9 1037.9 1106.4 1036.6C1105 1035.2 1105.8 1034.5 1105.5 1033.2C1105.3 1031.9 1105 1030.2 1104.9 1028.7C1104.7 1027.2 1104.6 1025 1104.6 1024.2Z" fill="#d3d3d3" stroke="#000" stroke-width="1.8" stroke-linejoin="round"/>
<path d="M1104.6 1021.9V1027.2M1104.6 1172.2V1180.9" stroke="#000" stroke-width="1.9" fill="none"/>
<path d="M1083.3 1075.5H1128.4" stroke="#000" stroke-width="1.6" stroke-dasharray="1.6 4.1" fill="none"/>
<path d="M1055.3 1096H1153.9" stroke="#000" stroke-width="1.5" stroke-dasharray="6.5 4.6" fill="none"/>
<path d="M1087.9 1121.3H1123.8" stroke="#000" stroke-width="1.6" stroke-dasharray="1.6 4.1" fill="none"/>
<path d="M1088.2 1053.2a2.95 2.95 0 1 0 5.9 0a2.95 2.95 0 1 0 -5.9 0M1097.1 1050.9a2.95 2.95 0 1 0 5.9 0a2.95 2.95 0 1 0 -5.9 0M1106.2 1053.9a2.95 2.95 0 1 0 5.9 0a2.95 2.95 0 1 0 -5.9 0M1114.9 1050.5a2.95 2.95 0 1 0 5.9 0a2.95 2.95 0 1 0 -5.9 0M1106.2 1061.2a2.95 2.95 0 1 0 5.9 0a2.95 2.95 0 1 0 -5.9 0M1097.1 1063.8a2.95 2.95 0 1 0 5.9 0a2.95 2.95 0 1 0 -5.9 0M1101.6 1069.8a2.95 2.95 0 1 0 5.9 0a2.95 2.95 0 1 0 -5.9 0M1088.2 1077.8a2.95 2.95 0 1 0 5.9 0a2.95 2.95 0 1 0 -5.9 0M1097.1 1081.8a2.95 2.95 0 1 0 5.9 0a2.95 2.95 0 1 0 -5.9 0M1106.2 1081.8a2.95 2.95 0 1 0 5.9 0a2.95 2.95 0 1 0 -5.9 0M1088.2 1093.1a2.95 2.95 0 1 0 5.9 0a2.95 2.95 0 1 0 -5.9 0M1097.1 1092.4a2.95 2.95 0 1 0 5.9 0a2.95 2.95 0 1 0 -5.9 0M1106.2 1091.1a2.95 2.95 0 1 0 5.9 0a2.95 2.95 0 1 0 -5.9 0M1114.9 1091.1a2.95 2.95 0 1 0 5.9 0a2.95 2.95 0 1 0 -5.9 0M1088.2 1097.7a2.95 2.95 0 1 0 5.9 0a2.95 2.95 0 1 0 -5.9 0M1097.1 1097.7a2.95 2.95 0 1 0 5.9 0a2.95 2.95 0 1 0 -5.9 0M1106.2 1095.7a2.95 2.95 0 1 0 5.9 0a2.95 2.95 0 1 0 -5.9 0M1114.9 1095.7a2.95 2.95 0 1 0 5.9 0a2.95 2.95 0 1 0 -5.9 0M1092.6 1104.4a2.95 2.95 0 1 0 5.9 0a2.95 2.95 0 1 0 -5.9 0M1101.6 1103.1a2.95 2.95 0 1 0 5.9 0a2.95 2.95 0 1 0 -5.9 0M1110.4 1103.7a2.95 2.95 0 1 0 5.9 0a2.95 2.95 0 1 0 -5.9 0M1097.1 1116.8a2.95 2.95 0 1 0 5.9 0a2.95 2.95 0 1 0 -5.9 0M1106.2 1119.7a2.95 2.95 0 1 0 5.9 0a2.95 2.95 0 1 0 -5.9 0M1097.1 1127a2.95 2.95 0 1 0 5.9 0a2.95 2.95 0 1 0 -5.9 0M1106.2 1127.7a2.95 2.95 0 1 0 5.9 0a2.95 2.95 0 1 0 -5.9 0M1097.1 1135.4a2.95 2.95 0 1 0 5.9 0a2.95 2.95 0 1 0 -5.9 0M1106.2 1137a2.95 2.95 0 1 0 5.9 0a2.95 2.95 0 1 0 -5.9 0M1097.1 1146.9a2.95 2.95 0 1 0 5.9 0a2.95 2.95 0 1 0 -5.9 0M1106.2 1146.9a2.95 2.95 0 1 0 5.9 0a2.95 2.95 0 1 0 -5.9 0M1101.6 1152.3a2.95 2.95 0 1 0 5.9 0a2.95 2.95 0 1 0 -5.9 0" fill="#000"/>
<path d="M1262.7 952.4C1262.6 953.2 1262.5 955.4 1262.4 956.9C1262.2 958.4 1262 959.8 1261.7 961.4C1261.5 963.1 1261.3 964.8 1260.8 967C1260.3 969.2 1259.6 971.7 1258.6 974.5C1257.5 977.3 1255.6 980.7 1254.5 983.8C1253.4 986.9 1252.7 989.7 1252.1 993.1C1251.4 996.5 1251.2 1000.5 1250.6 1004.3C1249.9 1008 1249.3 1012.3 1248.3 1015.4C1247.3 1018.5 1246.5 1020.4 1244.6 1022.9C1242.7 1025.4 1240 1027.5 1237.2 1030.3C1234.4 1033.1 1230 1036.5 1227.9 1039.6C1225.7 1042.7 1224.1 1045.8 1224.1 1048.9C1224.1 1052 1226 1055.1 1227.9 1058.2C1229.7 1061.3 1233.9 1065.1 1235.3 1067.6C1236.7 1070 1236.7 1071 1236.2 1073.1C1235.8 1075.3 1234.8 1077.8 1232.5 1080.6C1230.2 1083.4 1225.4 1086.8 1222.3 1089.9C1219.2 1093 1215.8 1096.3 1213.9 1099.2C1212 1102.1 1210.6 1104.8 1211.1 1107.6C1211.6 1110.4 1213.6 1113.3 1216.7 1116C1219.8 1118.6 1225.1 1120.9 1229.7 1123.4C1234.4 1125.9 1240.3 1128.4 1244.6 1130.9C1249 1133.3 1253 1135.8 1255.8 1138.3C1258.6 1140.8 1260.4 1143.9 1261.4 1145.7C1262.4 1147.6 1261.5 1148.1 1261.7 1149.5C1261.9 1150.8 1262.2 1152.5 1262.4 1154C1262.5 1155.5 1262.6 1157.7 1262.7 1158.5L1262.7 1158.5C1262.7 1157.7 1262.8 1155.5 1263 1154C1263.1 1152.5 1263.4 1150.8 1263.6 1149.5C1263.8 1148.1 1263 1147.6 1264 1145.7C1265 1143.9 1266.8 1140.8 1269.6 1138.3C1272.3 1135.8 1276.4 1133.3 1280.7 1130.9C1285.1 1128.4 1291 1125.9 1295.6 1123.4C1300.3 1120.9 1305.5 1118.6 1308.6 1116C1311.8 1113.3 1313.8 1110.4 1314.2 1107.6C1314.7 1104.8 1313.3 1102.1 1311.4 1099.2C1309.6 1096.3 1306.2 1093 1303.1 1089.9C1300 1086.8 1295.2 1083.4 1292.8 1080.6C1290.5 1077.8 1289.6 1075.3 1289.1 1073.1C1288.6 1071 1288.6 1070 1290 1067.6C1291.4 1065.1 1295.6 1061.3 1297.5 1058.2C1299.3 1055.1 1301.2 1052 1301.2 1048.9C1301.2 1045.8 1299.7 1042.7 1297.5 1039.6C1295.3 1036.5 1291 1033.1 1288.2 1030.3C1285.4 1027.5 1282.6 1025.4 1280.7 1022.9C1278.9 1020.4 1278 1018.5 1277 1015.4C1276 1012.3 1275.4 1008 1274.8 1004.3C1274.1 1000.5 1273.9 996.5 1273.3 993.1C1272.6 989.7 1271.9 986.9 1270.9 983.8C1269.8 980.7 1267.8 977.3 1266.8 974.5C1265.7 971.7 1265.1 969.2 1264.5 967C1264 964.8 1263.9 963.1 1263.6 961.4C1263.4 959.8 1263.1 958.4 1263 956.9C1262.8 955.4 1262.7 953.2 1262.7 952.4Z" fill="#88b8fa" stroke="#000" stroke-width="1.8" stroke-linejoin="round"/>
<path d="M1262.7 943.8V955.4M1262.7 1155.5V1168.1" stroke="#000" stroke-width="1.9" fill="none"/>
<path d="M1230 1045.6H1297.9" stroke="#000" stroke-width="1.6" stroke-dasharray="1.6 4.1" fill="none"/>
<path d="M1234.5 1080.6H1290.8" stroke="#000" stroke-width="1.5" stroke-dasharray="6.5 4.6" fill="none"/>
<path d="M1216 1108.1H1311.9" stroke="#000" stroke-width="1.6" stroke-dasharray="1.6 4.1" fill="none"/>
<path d="M1259.5 982.4h6.4v6.4h-6.4zM1259.5 1002.4h6.4v6.4h-6.4zM1259.5 1019.7h6.4v6.4h-6.4zM1259.5 1032.7h6.4v6.4h-6.4zM1259.5 1038.3h6.4v6.4h-6.4zM1250.7 1049.5h6.4v6.4h-6.4zM1259.5 1048.5h6.4v6.4h-6.4zM1268.8 1050.4h6.4v6.4h-6.4zM1259.5 1054.1h6.4v6.4h-6.4zM1259.5 1071.8h6.4v6.4h-6.4zM1259.5 1077.4h6.4v6.4h-6.4zM1259.5 1083h6.4v6.4h-6.4zM1259.5 1092.3h6.4v6.4h-6.4zM1250.7 1096.4h6.4v6.4h-6.4zM1259.5 1098.8h6.4v6.4h-6.4zM1254.4 1106.2h6.4v6.4h-6.4zM1264.1 1104.4h6.4v6.4h-6.4zM1254.4 1111.8h6.4v6.4h-6.4zM1264.1 1111.8h6.4v6.4h-6.4zM1259.5 1118.3h6.4v6.4h-6.4zM1259.5 1123.9h6.4v6.4h-6.4z" fill="#000"/>
<path d="M1420.7 990.5C1420.7 991.2 1420.6 993.5 1420.4 995C1420.3 996.5 1420.1 998 1419.8 999.5C1419.5 1001 1419.2 1002.4 1418.7 1003.9C1418.2 1005.3 1417.6 1006.8 1416.9 1008.3C1416.3 1009.7 1415.9 1011 1414.9 1012.7C1413.9 1014.4 1412.2 1016.3 1410.9 1018.5C1409.7 1020.7 1408 1023.4 1407.3 1025.8C1406.6 1028.3 1406.9 1030.7 1406.6 1033.1C1406.2 1035.6 1405.7 1038 1405.1 1040.5C1404.5 1042.9 1404 1045.3 1402.9 1047.8C1401.8 1050.2 1400.5 1052.9 1398.5 1055.1C1396.6 1057.3 1394.4 1059 1391.2 1060.9C1388 1062.9 1382.7 1065.1 1379.5 1066.8C1376.3 1068.5 1373.9 1069.5 1372.2 1071.2C1370.4 1072.9 1369.2 1075.1 1369 1077C1368.7 1079 1369.5 1080.9 1370.7 1082.9C1372 1084.8 1374.4 1086.8 1376.6 1088.7C1378.8 1090.7 1381.6 1092.6 1383.9 1094.6C1386.2 1096.5 1388.9 1098.5 1390.5 1100.4C1392.1 1102.4 1392.9 1104.1 1393.4 1106.3C1393.9 1108.5 1393.6 1111.2 1393.4 1113.6C1393.1 1116 1391.8 1119 1391.9 1120.9C1392.1 1122.9 1392.5 1123.8 1394.1 1125.3C1395.7 1126.8 1398.5 1128 1401.4 1129.7C1404.4 1131.4 1409 1133.8 1411.7 1135.5C1414.4 1137.2 1416.2 1138.7 1417.5 1139.9C1418.9 1141.1 1419.3 1141.6 1419.8 1142.8C1420.3 1144.1 1420.3 1145.8 1420.4 1147.3C1420.6 1148.8 1420.7 1151.1 1420.7 1151.8L1420.7 1151.8C1420.8 1151.1 1420.9 1148.8 1421 1147.3C1421.2 1145.8 1421.2 1144.1 1421.7 1142.8C1422.2 1141.6 1422.6 1141.1 1424 1139.9C1425.3 1138.7 1427.1 1137.2 1429.8 1135.5C1432.5 1133.8 1437.1 1131.4 1440.1 1129.7C1443 1128 1445.8 1126.8 1447.4 1125.3C1449 1123.8 1449.4 1122.9 1449.6 1120.9C1449.7 1119 1448.3 1116 1448.1 1113.6C1447.9 1111.2 1447.6 1108.5 1448.1 1106.3C1448.6 1104.1 1449.4 1102.4 1451 1100.4C1452.6 1098.5 1455.3 1096.5 1457.6 1094.6C1459.9 1092.6 1462.7 1090.7 1464.9 1088.7C1467.1 1086.8 1469.5 1084.8 1470.8 1082.9C1472 1080.9 1472.8 1079 1472.5 1077C1472.3 1075.1 1471.1 1072.9 1469.3 1071.2C1467.6 1069.5 1465.2 1068.5 1462 1066.8C1458.8 1065.1 1453.5 1062.9 1450.3 1060.9C1447.1 1059 1444.9 1057.3 1443 1055.1C1441 1052.9 1439.7 1050.2 1438.6 1047.8C1437.5 1045.3 1437 1042.9 1436.4 1040.5C1435.8 1038 1435.3 1035.6 1434.9 1033.1C1434.6 1030.7 1434.9 1028.3 1434.2 1025.8C1433.5 1023.4 1431.8 1020.7 1430.5 1018.5C1429.3 1016.3 1427.6 1014.4 1426.6 1012.7C1425.6 1011 1425.2 1009.7 1424.5 1008.3C1423.9 1006.8 1423.3 1005.3 1422.8 1003.9C1422.3 1002.4 1422 1001 1421.7 999.5C1421.4 998 1421.2 996.5 1421 995C1420.9 993.5 1420.8 991.2 1420.7 990.5Z" fill="#a3ecd9" stroke="#000" stroke-width="1.8" stroke-linejoin="round"/>
<path d="M1420.7 986.6V993.5M1420.7 1148.8V1155.3" stroke="#000" stroke-width="1.9" fill="none"/>
<path d="M1386.9 1065.3H1457.1" stroke="#000" stroke-width="1.6" stroke-dasharray="1.6 4.1" fill="none"/>
<path d="M1372.2 1081.1H1469.3" stroke="#000" stroke-width="1.5" stroke-dasharray="6.5 4.6" fill="none"/>
<path d="M1396.1 1102.6H1447.9" stroke="#000" stroke-width="1.6" stroke-dasharray="1.6 4.1" fill="none"/>
<path d="M1420.7 1004.4l3.5 6.3h-6.9zM1420.7 1016.8l3.5 6.3h-6.9zM1416.1 1021.9l3.5 6.3h-6.9zM1416.1 1027.1l3.5 6.3h-6.9zM1424.8 1024.9l3.5 6.3h-6.9zM1424.8 1030l3.5 6.3h-6.9zM1424.8 1034.4l3.5 6.3h-6.9zM1424.8 1038.8l3.5 6.3h-6.9zM1424.8 1043.2l3.5 6.3h-6.9zM1424.8 1047.5l3.5 6.3h-6.9zM1424.8 1052.7l3.5 6.3h-6.9zM1416.1 1037.3l3.5 6.3h-6.9zM1416.1 1046.1l3.5 6.3h-6.9zM1416.1 1053.4l3.5 6.3h-6.9zM1407.3 1044.6l3.5 6.3h-6.9zM1407.3 1052.7l3.5 6.3h-6.9zM1433.6 1057.8l3.5 6.3h-6.9zM1433.6 1062.2l3.5 6.3h-6.9zM1433.6 1067.3l3.5 6.3h-6.9zM1416.1 1060.7l3.5 6.3h-6.9zM1416.1 1065.1l3.5 6.3h-6.9zM1416.1 1069.5l3.5 6.3h-6.9zM1416.1 1073.9l3.5 6.3h-6.9zM1416.1 1078.3l3.5 6.3h-6.9zM1416.1 1083.4l3.5 6.3h-6.9zM1416.1 1088.5l3.5 6.3h-6.9zM1424.8 1062.9l3.5 6.3h-6.9zM1424.8 1067.3l3.5 6.3h-6.9zM1424.8 1071.7l3.5 6.3h-6.9zM1424.8 1076.1l3.5 6.3h-6.9zM1424.8 1080.5l3.5 6.3h-6.9zM1424.8 1085.6l3.5 6.3h-6.9zM1424.8 1090.7l3.5 6.3h-6.9zM1407.3 1062.2l3.5 6.3h-6.9zM1407.3 1066.6l3.5 6.3h-6.9zM1407.3 1070.9l3.5 6.3h-6.9zM1407.3 1075.3l3.5 6.3h-6.9zM1407.3 1080.5l3.5 6.3h-6.9zM1407.3 1085.6l3.5 6.3h-6.9zM1407.3 1090.7l3.5 6.3h-6.9zM1407.3 1095.8l3.5 6.3h-6.9zM1407.3 1100.9l3.5 6.3h-6.9zM1407.3 1106.1l3.5 6.3h-6.9zM1398.5 1065.1l3.5 6.3h-6.9zM1398.5 1070.2l3.5 6.3h-6.9zM1398.5 1075.3l3.5 6.3h-6.9zM1398.5 1084.8l3.5 6.3h-6.9zM1389.7 1068.8l3.5 6.3h-6.9zM1389.7 1073.1l3.5 6.3h-6.9zM1442.7 1068.8l3.5 6.3h-6.9zM1442.7 1078.3l3.5 6.3h-6.9zM1442.7 1087.8l3.5 6.3h-6.9zM1442.7 1101.7l3.5 6.3h-6.9zM1451.9 1074.6l3.5 6.3h-6.9zM1433.6 1076.8l3.5 6.3h-6.9zM1433.6 1085.6l3.5 6.3h-6.9zM1433.6 1090l3.5 6.3h-6.9zM1433.6 1094.3l3.5 6.3h-6.9zM1433.6 1105.3l3.5 6.3h-6.9zM1424.8 1095.8l3.5 6.3h-6.9zM1424.8 1100.2l3.5 6.3h-6.9zM1424.8 1104.6l3.5 6.3h-6.9zM1424.8 1109l3.5 6.3h-6.9zM1416.1 1106.8l3.5 6.3h-6.9zM1398.5 1116.3l3.5 6.3h-6.9zM1398.5 1120.7l3.5 6.3h-6.9zM1407.3 1117l3.5 6.3h-6.9zM1416.1 1117.8l3.5 6.3h-6.9zM1416.1 1122.9l3.5 6.3h-6.9zM1416.1 1128l3.5 6.3h-6.9zM1424.8 1118.5l3.5 6.3h-6.9zM1424.8 1126.5l3.5 6.3h-6.9zM1433.6 1119.2l3.5 6.3h-6.9zM1442.7 1117l3.5 6.3h-6.9z" fill="#000"/>
<path d="M214.2 77V60H532.4V77" stroke="#000" stroke-width="2" fill="none" stroke-linejoin="miter"/>
<path d="M214.2 145.6V128.4H372.8V145.6" stroke="#000" stroke-width="2.8" fill="none" stroke-linejoin="miter"/>
<path d="M1099 140.5V123.6H1260.5V140.5" stroke="#000" stroke-width="2.4" fill="none" stroke-linejoin="miter"/>
<path d="M220.4 809V792.2H535.2V809" stroke="#000" stroke-width="1.8" fill="none" stroke-linejoin="miter"/>
<path d="M220.4 858.4V842.2H378V858.4" stroke="#000" stroke-width="1.8" fill="none" stroke-linejoin="miter"/>
<path d="M1104.6 877.8V860.8H1420.5V877.8" stroke="#000" stroke-width="2.6" fill="none" stroke-linejoin="miter"/>
<path d="M1104.6 927.8V910.8H1262.6V927.8" stroke="#000" stroke-width="2.4" fill="none" stroke-linejoin="miter"/>
<text x="371.5" y="47.9" text-anchor="middle" class="st">*</text>
<text x="265.4 292.4 319.4" y="116.6" text-anchor="middle" class="st">***</text>
<text x="1165.5 1192.5" y="111.6" text-anchor="middle" class="st">**</text>
<text x="363.2 390.2" y="781.6" text-anchor="middle" class="st">**</text>
<text x="285.3 312.3" y="830.9" text-anchor="middle" class="st">**</text>
<text x="1247.9 1274.9" y="849.8" text-anchor="middle" class="st">**</text>
<text x="1169.9 1196.9" y="899.8" text-anchor="middle" class="st">**</text>

</svg>
</body>
</html>
